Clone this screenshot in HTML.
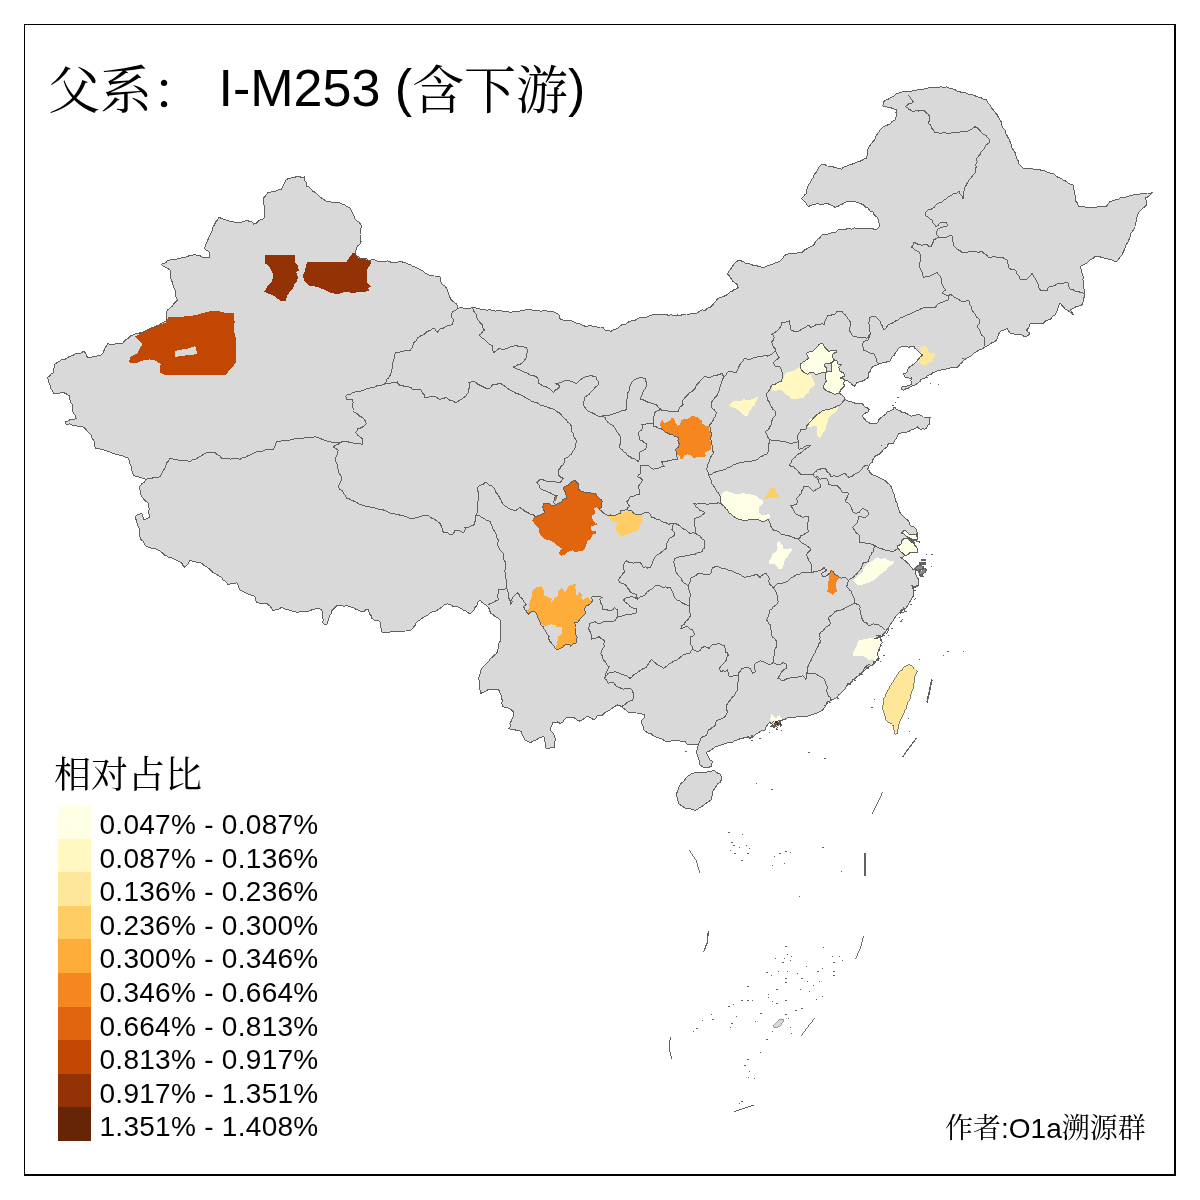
<!DOCTYPE html>
<html lang="zh"><head><meta charset="utf-8"><title>父系： I-M253 (含下游)</title>
<style>
html,body{margin:0;padding:0;background:#fff;}
body{width:1200px;height:1200px;position:relative;overflow:hidden;font-family:"Liberation Sans","Noto Serif CJK SC",serif;color:#000;}
.fr{position:absolute;background:#000;}
.title{position:absolute;left:48px;top:54px;font-size:52px;line-height:60px;white-space:pre;}
.cjk{font-family:"Noto Serif CJK SC","Liberation Serif",serif;font-weight:400;}
.title .cjk{position:relative;top:3px;}
.ltitle{position:absolute;left:54px;top:746.5px;font-size:37px;line-height:50px;white-space:pre;}
.sw{position:absolute;left:58px;width:33px;height:33.6px;}
.lab{position:absolute;left:99.5px;font-size:28px;letter-spacing:0.28px;line-height:33.6px;height:33.6px;white-space:pre;}
.author{position:absolute;left:945px;top:1107.5px;font-size:28px;line-height:36px;white-space:pre;}
</style></head><body>
<svg width="1200" height="1200" viewBox="0 0 1200 1200" style="position:absolute;left:0;top:0" shape-rendering="crispEdges">
<g fill="#D9D9D9" stroke="#606060" stroke-width="1" stroke-linejoin="round">
<path d="M96.2 448.8 L94.7 446.2 L94.7 443.1 L93.6 440.4 L91.9 437.9 L91.2 435.0 L89.4 433.1 L87.4 431.3 L85.8 429.2 L83.8 427.5 L81.0 426.3 L77.7 426.4 L75.0 425.0 L72.4 425.4 L70.1 423.9 L67.5 424.2 L65.0 423.8 L65.0 421.2 L67.9 421.0 L70.5 419.3 L73.4 419.3 L76.2 418.8 L75.3 415.7 L73.4 413.1 L72.5 410.0 L72.7 407.1 L72.1 404.4 L70.3 401.9 L69.8 399.1 L70.0 396.2 L67.5 394.9 L65.3 393.2 L62.5 392.5 L59.6 393.1 L56.7 393.8 L53.8 393.8 L52.4 390.9 L50.6 388.2 L50.0 385.0 L48.8 382.6 L48.2 380.0 L47.5 377.5 L49.6 375.8 L51.4 373.9 L53.8 372.5 L53.8 369.5 L54.2 366.6 L55.0 363.8 L57.5 362.4 L59.9 361.0 L62.2 359.4 L65.2 359.2 L67.5 357.6 L70.0 356.2 L72.8 355.5 L75.3 353.8 L78.5 353.9 L81.2 352.8 L83.8 351.2 L85.5 353.0 L86.5 355.3 L87.5 357.5 L90.3 357.3 L93.1 356.8 L95.9 356.6 L98.5 355.4 L101.2 355.0 L102.9 353.0 L104.0 350.6 L104.7 348.1 L106.4 346.1 L107.5 343.8 L110.5 344.3 L113.5 344.3 L116.5 343.8 L119.5 343.9 L122.5 343.8 L123.9 341.4 L126.0 339.7 L128.4 338.4 L130.0 336.2 L132.9 335.1 L135.7 333.7 L138.8 333.2 L141.8 332.4 L144.7 331.3 L147.5 330.0 L150.1 328.6 L152.8 327.4 L155.5 326.3 L158.4 325.4 L160.9 323.8 L163.5 322.4 L166.2 321.2 L166.5 318.4 L166.2 315.5 L166.5 312.7 L167.5 310.0 L169.7 308.2 L172.0 306.5 L173.6 304.1 L175.4 301.9 L177.5 300.0 L176.1 297.3 L175.7 294.3 L175.5 291.2 L174.3 288.5 L173.1 285.7 L172.7 282.7 L171.2 280.0 L170.5 277.5 L170.6 275.0 L171.0 272.4 L170.0 270.0 L167.9 268.5 L165.6 267.3 L163.3 266.2 L161.2 264.5 L163.5 263.4 L165.9 262.9 L167.5 260.5 L170.0 260.0 L173.2 259.7 L176.4 259.1 L179.5 258.5 L182.6 257.6 L185.7 257.0 L188.8 255.9 L191.9 255.3 L195.0 254.5 L197.5 255.4 L200.2 255.9 L202.5 257.5 L205.0 258.1 L207.5 257.6 L210.0 257.5 L209.5 255.0 L210.0 252.5 L208.2 251.2 L206.3 250.0 L204.5 248.8 L205.4 245.9 L206.4 243.0 L207.7 240.3 L208.8 237.5 L210.2 235.0 L211.4 232.4 L212.4 229.8 L213.1 226.9 L214.6 224.5 L215.8 221.9 L217.6 219.6 L218.8 217.0 L221.3 218.4 L224.0 219.3 L226.7 220.2 L229.4 221.1 L232.4 221.2 L235.0 222.5 L238.0 222.8 L241.0 222.3 L243.9 221.1 L246.9 220.8 L250.0 221.2 L252.3 222.2 L253.8 224.2 L256.2 223.2 L258.1 221.2 L260.2 219.7 L262.8 219.0 L265.0 217.5 L264.6 214.7 L264.0 211.8 L264.0 209.0 L264.3 206.1 L263.6 203.2 L263.6 200.4 L263.8 197.5 L265.9 195.5 L267.5 193.0 L270.2 192.3 L272.9 191.5 L275.7 191.2 L278.3 189.9 L281.2 190.0 L282.3 187.4 L283.6 184.9 L284.6 182.3 L286.2 180.0 L288.1 178.5 L290.7 178.5 L292.5 177.0 L295.5 177.0 L298.5 176.6 L301.5 177.2 L304.5 177.0 L304.6 180.1 L306.4 182.9 L306.2 186.0 L308.9 187.1 L311.1 189.0 L312.8 191.4 L315.6 192.4 L317.5 194.5 L319.5 196.4 L321.7 198.1 L324.0 199.6 L326.2 201.2 L329.4 201.1 L332.4 202.6 L335.6 202.6 L338.8 202.5 L341.6 203.9 L344.6 204.9 L347.1 206.8 L350.0 208.0 L351.4 210.6 L352.4 213.4 L354.0 215.9 L355.0 218.8 L356.6 220.8 L359.0 222.0 L360.5 224.2 L362.0 226.2 L360.6 229.0 L360.1 232.0 L360.0 235.0 L360.7 237.3 L360.3 239.8 L361.2 242.0 L359.8 244.4 L357.4 246.1 L356.2 248.8 L355.6 251.8 L355.8 255.0 L357.9 256.4 L360.0 258.0 L362.9 258.1 L365.8 258.3 L368.3 260.1 L371.2 260.0 L374.1 259.6 L376.7 261.0 L379.4 261.4 L382.2 261.1 L385.0 261.2 L387.9 260.9 L390.8 262.1 L393.7 262.3 L396.7 262.1 L399.6 261.9 L402.5 262.0 L405.1 262.8 L407.6 263.8 L410.2 264.6 L412.4 266.2 L415.0 267.0 L417.8 268.5 L420.7 269.8 L423.5 271.3 L425.9 273.6 L428.8 275.0 L431.6 275.2 L434.4 276.0 L437.2 276.2 L440.0 277.0 L440.1 279.9 L441.2 282.5 L442.7 284.8 L445.0 286.2 L446.9 288.8 L447.9 291.7 L449.0 294.6 L450.0 297.5 L451.3 300.0 L453.4 301.8 L455.8 303.3 L457.5 305.5 L458.0 308.2 L460.9 307.7 L463.8 308.2 L466.7 308.3 L469.6 308.3 L472.5 307.5 L475.4 307.7 L478.1 308.9 L481.0 309.1 L483.9 309.2 L486.7 310.4 L489.7 309.7 L492.5 310.5 L495.3 311.1 L498.3 310.3 L501.1 310.6 L503.9 312.0 L506.8 311.1 L509.6 312.2 L512.5 312.0 L515.4 311.7 L518.4 311.7 L521.2 310.6 L524.1 310.1 L527.0 309.6 L530.0 309.5 L532.8 310.3 L535.7 310.2 L538.5 310.9 L541.4 311.1 L544.3 310.2 L547.1 311.1 L550.0 311.2 L552.7 311.5 L555.2 312.3 L557.5 313.8 L559.3 315.3 L559.5 317.9 L561.2 319.5 L563.7 320.2 L566.2 320.5 L568.8 320.0 L571.2 320.5 L573.9 321.8 L576.6 323.2 L579.6 323.8 L582.2 325.2 L585.0 326.2 L588.1 326.0 L591.3 325.9 L594.4 326.3 L597.5 327.3 L600.6 327.0 L603.8 327.0 L603.8 328.7 L605.0 330.0 L608.1 330.6 L611.2 331.2 L613.3 329.7 L615.8 329.1 L618.1 327.9 L620.0 326.2 L622.6 324.3 L625.9 324.0 L628.5 321.9 L631.4 320.7 L634.8 320.5 L637.5 318.8 L640.0 317.5 L642.8 317.2 L645.7 317.6 L648.2 316.2 L650.8 315.2 L653.5 314.6 L656.2 314.5 L659.3 314.2 L662.3 315.0 L665.4 314.1 L668.4 315.4 L671.4 314.7 L674.4 315.6 L677.5 315.0 L680.5 315.4 L683.3 314.3 L686.2 314.0 L689.2 314.1 L692.0 313.4 L695.0 313.8 L697.6 312.9 L699.7 311.0 L702.2 309.9 L705.3 310.3 L707.4 308.3 L710.0 307.5 L712.1 305.6 L713.9 303.4 L715.8 301.3 L717.5 299.0 L720.0 297.5 L722.8 296.8 L725.3 295.6 L727.8 294.4 L729.7 292.0 L732.5 291.2 L734.1 289.6 L736.3 288.9 L738.0 287.5 L737.8 285.3 L736.2 283.8 L734.4 282.4 L732.5 281.2 L731.1 278.6 L729.4 276.1 L727.5 273.8 L728.9 271.0 L730.9 268.8 L732.5 266.2 L734.1 264.1 L735.9 262.2 L738.0 260.5 L741.1 260.8 L743.9 262.0 L746.5 263.9 L749.6 264.0 L752.5 265.0 L755.6 265.7 L758.7 266.2 L761.8 267.2 L765.0 267.0 L767.4 265.9 L769.9 264.9 L772.4 264.1 L774.9 263.1 L777.5 262.5 L780.0 260.9 L782.3 258.9 L783.9 256.3 L786.2 254.5 L788.9 253.8 L791.7 253.7 L794.4 253.4 L797.1 253.0 L799.7 252.0 L802.5 252.0 L804.4 250.0 L806.8 248.9 L808.9 247.3 L811.5 246.5 L813.8 245.0 L815.2 242.1 L817.2 239.6 L819.9 237.6 L821.7 235.0 L824.6 234.0 L827.8 234.1 L830.7 233.0 L833.8 232.9 L836.7 231.7 L838.0 230.1 L840.0 229.3 L842.9 229.1 L845.7 229.4 L848.5 228.1 L851.5 229.2 L854.3 227.9 L857.2 228.6 L860.0 228.0 L862.7 228.9 L865.5 228.9 L868.4 228.4 L871.2 228.3 L873.9 229.1 L876.7 229.3 L878.8 227.5 L880.0 225.0 L878.6 222.3 L878.3 219.2 L876.7 216.7 L874.2 215.0 L872.9 212.1 L869.9 210.9 L868.3 208.3 L865.7 207.1 L863.6 205.0 L861.0 203.7 L858.3 202.7 L855.5 201.8 L852.5 201.7 L849.6 201.6 L846.7 201.7 L844.2 202.6 L842.2 204.4 L839.7 205.2 L837.6 206.6 L835.0 207.3 L832.4 205.7 L829.6 204.4 L826.7 203.3 L823.7 204.0 L820.8 204.6 L817.6 203.6 L814.6 204.2 L811.7 205.0 L810.0 205.8 L808.3 206.7 L806.7 204.6 L805.4 202.2 L803.3 200.4 L801.7 198.3 L803.3 196.5 L804.9 194.8 L806.7 193.3 L806.9 190.5 L807.1 187.6 L808.3 185.0 L810.2 182.5 L811.5 179.7 L813.4 177.2 L814.4 174.1 L816.5 171.8 L817.9 169.0 L819.6 166.3 L821.7 164.0 L824.6 164.4 L827.3 166.0 L830.3 166.1 L833.2 166.9 L835.9 167.9 L838.9 168.2 L841.7 169.3 L842.9 167.4 L845.0 166.7 L847.7 165.7 L850.4 164.6 L853.2 163.8 L855.8 162.4 L858.7 161.7 L861.4 160.7 L863.8 159.0 L866.7 158.3 L867.1 155.8 L867.5 153.3 L867.5 150.7 L868.3 148.3 L869.9 145.6 L871.7 143.1 L873.8 140.8 L875.5 138.2 L876.4 135.0 L878.5 132.7 L880.0 130.0 L882.1 127.8 L884.6 126.1 L887.5 125.0 L890.3 123.8 L892.2 121.2 L895.0 120.0 L895.8 117.6 L896.4 115.1 L896.0 112.5 L896.7 110.0 L894.0 108.9 L891.2 107.9 L888.2 107.8 L885.6 106.5 L882.7 106.0 L883.4 103.9 L883.3 101.7 L886.1 100.1 L888.9 98.8 L891.7 97.2 L894.4 95.6 L896.7 93.3 L899.5 93.0 L902.2 92.0 L904.9 91.6 L907.7 91.1 L910.5 91.2 L913.3 90.7 L916.0 90.6 L918.5 89.1 L921.4 89.5 L924.1 89.1 L926.7 88.3 L929.5 87.8 L932.4 87.9 L935.2 87.1 L938.2 87.7 L940.9 86.5 L943.9 87.6 L946.7 86.7 L949.2 88.1 L952.0 88.9 L954.8 89.4 L957.1 91.3 L960.0 91.7 L962.5 93.0 L965.5 92.5 L967.9 94.1 L970.5 94.8 L973.3 95.0 L975.9 96.2 L978.6 97.3 L981.4 97.9 L983.8 99.6 L986.7 100.0 L987.8 102.9 L990.1 104.9 L991.3 107.8 L993.3 110.0 L995.1 112.4 L997.1 114.7 L998.5 117.4 L1000.0 120.0 L1001.6 122.3 L1001.7 125.3 L1002.7 127.8 L1005.0 129.8 L1005.4 132.6 L1006.7 135.0 L1007.9 137.4 L1009.4 139.8 L1010.3 142.4 L1011.4 144.8 L1011.9 147.7 L1013.3 150.0 L1015.0 152.4 L1015.7 155.2 L1016.4 157.9 L1018.0 160.4 L1018.3 163.3 L1019.8 165.1 L1021.5 166.7 L1023.3 168.3 L1025.9 169.0 L1028.7 168.3 L1031.4 168.6 L1034.0 169.2 L1036.7 169.3 L1039.5 169.6 L1042.2 170.8 L1045.1 170.9 L1047.7 172.2 L1050.4 173.1 L1053.3 173.3 L1055.5 175.4 L1057.9 177.2 L1060.8 178.4 L1063.3 180.0 L1065.8 181.2 L1068.1 183.0 L1070.6 184.1 L1073.3 185.0 L1073.5 187.7 L1074.2 190.3 L1074.6 192.9 L1075.2 195.6 L1075.0 198.3 L1075.7 201.0 L1077.7 203.2 L1078.3 206.0 L1081.2 206.7 L1084.1 206.7 L1087.0 207.7 L1090.0 207.3 L1092.8 207.5 L1095.6 207.6 L1098.3 206.1 L1101.1 206.4 L1103.9 206.3 L1106.7 206.0 L1108.1 203.7 L1110.0 201.7 L1112.8 200.9 L1115.5 199.8 L1118.4 199.2 L1120.9 197.6 L1123.9 197.5 L1126.7 196.7 L1129.7 195.9 L1132.6 195.1 L1135.7 194.5 L1138.8 194.4 L1141.7 193.3 L1144.5 193.4 L1147.2 193.0 L1150.0 193.1 L1152.7 192.7 L1150.2 194.7 L1147.8 196.8 L1145.0 198.3 L1146.3 200.4 L1146.5 202.7 L1146.7 205.0 L1144.5 207.0 L1142.1 208.7 L1140.1 210.9 L1138.3 213.3 L1137.6 216.0 L1136.3 218.5 L1136.4 221.4 L1135.2 223.9 L1135.0 226.7 L1133.9 229.3 L1132.2 231.5 L1130.6 233.9 L1130.0 236.7 L1129.1 239.3 L1128.2 241.9 L1126.5 244.1 L1125.5 246.7 L1124.6 249.3 L1123.3 251.7 L1122.3 254.6 L1120.1 256.8 L1118.4 259.3 L1116.7 261.7 L1113.7 261.0 L1111.0 259.5 L1108.0 259.0 L1105.0 258.3 L1102.6 257.6 L1100.1 256.9 L1097.6 256.7 L1095.0 256.7 L1092.9 258.4 L1090.6 259.7 L1088.6 261.5 L1086.7 263.3 L1084.4 264.2 L1082.1 265.4 L1080.0 266.7 L1081.0 269.2 L1081.5 271.8 L1082.3 274.3 L1083.3 276.7 L1082.9 279.8 L1083.4 282.8 L1083.6 285.9 L1084.0 288.9 L1084.2 292.0 L1085.0 295.0 L1084.0 297.5 L1083.6 300.1 L1082.9 302.6 L1081.7 305.0 L1078.7 306.0 L1075.6 307.0 L1072.9 308.7 L1070.0 310.0 L1072.1 312.2 L1073.3 315.0 L1071.6 313.0 L1069.3 311.7 L1067.3 310.1 L1064.9 308.9 L1063.3 306.7 L1061.7 305.0 L1060.0 303.3 L1058.4 306.1 L1057.6 309.2 L1056.4 312.2 L1055.0 315.0 L1052.5 316.5 L1050.7 318.9 L1048.0 320.0 L1045.3 321.1 L1043.3 323.3 L1040.6 323.2 L1038.0 323.7 L1035.3 323.4 L1032.7 323.7 L1030.0 324.0 L1029.3 326.2 L1028.2 328.2 L1026.7 330.0 L1027.9 332.1 L1030.0 333.3 L1028.6 334.9 L1026.7 336.0 L1023.8 336.2 L1021.2 334.6 L1018.4 334.6 L1015.5 334.4 L1012.8 333.7 L1010.0 333.3 L1008.6 330.6 L1006.7 328.3 L1004.7 329.9 L1002.1 330.4 L1000.0 331.7 L998.6 334.3 L997.4 337.1 L996.7 340.0 L994.4 341.8 L991.6 342.9 L989.4 344.8 L986.7 346.0 L984.2 347.3 L981.9 349.3 L979.0 349.9 L976.7 351.7 L973.9 352.9 L971.8 355.2 L969.4 357.0 L966.7 358.3 L964.1 359.9 L962.3 362.3 L960.0 364.2 L958.3 366.7 L955.6 367.8 L952.7 367.0 L950.0 368.0 L947.3 368.4 L944.7 369.4 L942.0 369.7 L939.7 370.6 L937.2 370.9 L935.0 372.1 L932.8 372.7 L931.3 374.5 L929.1 375.0 L927.1 376.0 L925.5 377.8 L923.3 378.5 L920.5 380.0 L918.6 382.6 L916.3 384.1 L914.0 385.5 L911.4 386.1 L909.3 387.8 L906.3 388.6 L903.5 390.1 L901.4 389.0 L902.3 386.6 L904.7 386.5 L907.0 386.1 L908.9 385.2 L911.0 384.9 L911.2 382.6 L910.9 380.2 L911.6 377.9 L909.4 378.2 L907.4 377.2 L905.2 377.3 L904.2 375.6 L903.5 373.8 L905.4 373.3 L907.0 372.1 L907.6 369.2 L909.3 367.2 L911.6 365.7 L913.6 364.4 L915.4 362.8 L916.9 361.0 L918.6 358.9 L920.3 356.7 L922.7 355.2 L920.7 353.5 L918.8 351.7 L916.9 349.9 L915.0 348.5 L914.0 346.4 L911.1 346.9 L908.1 347.1 L905.2 346.3 L902.3 346.4 L899.6 347.4 L897.6 349.3 L896.8 351.3 L895.3 352.8 L894.4 355.0 L892.4 356.3 L891.2 358.5 L890.6 361.0 L888.2 361.1 L886.0 362.2 L883.5 362.1 L881.3 363.2 L879.0 363.9 L876.4 365.3 L873.7 366.2 L871.9 367.6 L870.8 369.7 L870.1 371.5 L868.5 372.7 L868.5 374.5 L869.1 376.2 L867.4 378.4 L865.0 379.7 L863.3 380.7 L861.5 381.4 L859.2 382.0 L856.8 382.6 L855.8 384.5 L854.5 386.1 L852.4 385.0 L851.0 383.1 L849.0 382.0 L847.5 380.2 L844.6 380.8 L843.8 382.5 L843.6 384.5 L844.4 386.2 L842.5 388.2 L840.6 390.0 L839.9 391.5 L839.4 393.1 L841.7 394.8 L843.8 396.9 L845.2 399.5 L848.0 400.9 L851.0 401.8 L853.4 402.5 L855.7 403.6 L858.0 403.5 L860.4 403.8 L862.7 403.0 L863.2 405.4 L865.0 407.1 L867.4 407.7 L869.1 409.4 L867.9 412.3 L865.4 413.0 L863.2 414.6 L862.7 416.4 L863.2 418.1 L864.9 419.4 L866.2 421.0 L868.3 422.0 L870.2 423.4 L873.4 423.5 L876.6 423.4 L878.3 421.7 L879.0 419.3 L881.2 417.4 L883.6 415.8 L885.8 414.1 L887.1 411.7 L890.2 410.9 L893.0 409.4 L893.8 407.9 L895.3 407.1 L896.0 408.9 L897.6 410.0 L900.3 410.8 L902.3 412.9 L904.7 412.7 L907.0 413.5 L909.2 415.2 L911.6 416.4 L913.8 415.2 L916.2 415.0 L918.6 414.6 L921.2 415.3 L923.3 417.0 L925.6 417.1 L927.9 417.9 L930.3 417.6 L929.4 419.8 L929.7 422.2 L929.1 424.3 L927.4 425.7 L926.7 427.8 L925.0 429.2 L923.0 428.7 L921.0 429.2 L918.9 428.6 L917.5 426.9 L915.7 428.2 L913.8 429.3 L911.6 429.8 L909.5 431.1 L907.2 432.0 L904.6 432.1 L901.6 432.8 L898.8 433.9 L897.3 435.8 L896.5 438.0 L894.8 440.5 L893.6 443.2 L890.9 443.0 L888.3 443.8 L887.1 446.7 L884.6 448.6 L882.5 450.8 L880.9 452.7 L879.0 454.3 L876.9 455.3 L874.9 456.6 L873.1 459.0 L872.6 461.9 L870.7 463.5 L869.1 465.4 L868.6 467.6 L867.3 469.4 L869.3 470.7 L870.2 472.9 L872.0 474.6 L874.4 475.4 L876.6 476.4 L879.2 477.4 L881.6 478.9 L884.2 480.0 L886.1 481.7 L888.0 483.4 L890.0 485.0 L891.6 487.3 L892.2 489.9 L893.1 492.5 L894.4 494.8 L895.0 497.5 L895.5 500.7 L897.1 503.5 L897.8 506.6 L898.7 509.6 L900.0 512.5 L901.6 514.6 L903.5 516.5 L905.4 518.4 L907.5 520.0 L909.0 521.8 L909.2 524.4 L911.0 526.0 L914.0 527.0 L915.7 528.4 L916.5 530.5 L917.3 533.3 L916.8 536.3 L917.5 539.2 L914.9 539.0 L912.5 539.8 L911.0 538.3 L909.0 537.8 L907.0 538.0 L909.4 539.2 L911.0 541.5 L912.9 542.3 L914.0 544.0 L915.3 546.4 L917.2 548.2 L917.4 550.4 L917.5 552.5 L916.0 552.5 L913.5 552.7 L911.0 552.5 L908.6 553.1 L907.0 555.0 L905.0 555.5 L902.7 557.0 L900.0 557.2 L902.5 558.9 L905.0 560.5 L906.7 562.3 L908.7 563.8 L910.0 566.0 L911.6 567.6 L913.0 569.5 L915.0 570.0 L915.5 572.6 L916.1 575.2 L917.5 577.5 L918.6 579.9 L918.3 582.5 L918.8 585.0 L916.9 586.4 L914.4 586.2 L912.5 587.5 L913.7 589.8 L913.8 592.5 L913.6 595.2 L912.2 597.6 L911.2 600.0 L909.3 602.3 L908.1 605.2 L906.2 607.5 L904.5 609.6 L901.8 610.5 L900.0 612.5 L898.0 613.8 L896.3 615.5 L895.0 617.5 L893.6 620.2 L891.8 622.6 L890.0 625.0 L888.7 627.7 L886.6 630.0 L885.0 632.5 L883.5 634.3 L881.8 636.0 L880.0 637.5 L880.9 640.2 L882.5 642.5 L880.6 644.7 L879.9 647.4 L879.3 650.3 L877.5 652.5 L877.7 655.0 L878.4 657.5 L878.8 660.0 L876.2 661.1 L874.4 663.1 L872.5 665.0 L869.7 666.2 L867.3 668.1 L865.0 670.0 L863.3 671.6 L861.2 672.9 L860.0 675.0 L857.2 676.3 L855.2 678.6 L852.5 680.0 L851.2 682.0 L849.3 683.5 L847.5 685.0 L845.8 687.1 L844.6 689.5 L842.5 691.2 L840.8 693.3 L838.7 694.9 L837.4 697.4 L835.0 698.8 L832.3 699.6 L829.9 701.0 L827.5 702.5 L826.1 705.2 L824.4 707.7 L822.5 710.0 L820.1 711.4 L817.6 712.7 L815.0 713.8 L812.4 714.2 L810.0 715.4 L807.5 716.2 L805.0 716.2 L802.5 716.8 L800.0 716.2 L797.3 716.3 L795.0 717.5 L792.5 717.8 L790.0 717.8 L787.5 717.5 L785.3 719.3 L782.5 720.0 L780.0 722.1 L778.8 725.0 L776.3 726.3 L773.8 727.5 L772.4 724.6 L770.0 722.5 L768.3 723.3 L767.5 725.0 L765.6 727.2 L765.0 730.0 L762.7 730.4 L760.6 731.1 L758.8 732.5 L756.3 733.7 L754.3 735.5 L752.5 737.5 L749.4 738.0 L746.2 737.5 L743.1 738.1 L740.0 738.8 L737.4 739.9 L734.7 740.6 L732.5 742.5 L729.9 742.5 L727.4 743.0 L725.0 743.8 L722.4 744.2 L720.1 745.6 L717.5 746.2 L715.1 746.9 L713.2 748.6 L711.2 750.0 L708.8 751.4 L706.2 752.5 L707.5 755.0 L708.8 757.5 L710.1 759.9 L712.5 761.2 L711.8 763.7 L711.2 766.2 L708.9 767.3 L706.4 767.9 L703.8 768.0 L702.1 766.3 L700.0 765.0 L699.3 762.1 L698.9 759.0 L697.5 756.2 L696.9 753.4 L697.0 750.4 L697.0 747.5 L698.2 745.8 L698.8 743.8 L696.0 744.6 L693.2 744.7 L690.3 744.2 L687.5 744.5 L686.0 743.1 L685.0 741.2 L682.4 741.5 L680.0 741.0 L677.5 740.1 L675.0 740.0 L672.5 740.4 L670.1 741.5 L667.5 741.2 L664.8 741.0 L662.7 739.1 L660.0 738.8 L657.6 737.3 L654.8 736.7 L652.5 735.0 L650.6 733.3 L647.8 733.1 L645.8 731.4 L643.8 730.0 L643.4 727.3 L642.4 724.9 L641.2 722.5 L642.2 719.9 L644.3 717.8 L645.0 715.0 L642.1 714.2 L639.3 713.1 L636.2 713.0 L633.8 712.2 L631.2 712.8 L628.8 712.5 L626.8 710.6 L624.6 709.1 L622.5 707.5 L620.3 705.7 L617.5 705.0 L614.8 706.3 L612.3 708.1 L610.0 710.0 L607.2 711.3 L604.6 712.7 L602.5 715.0 L600.0 715.6 L597.5 715.5 L596.0 718.0 L593.8 720.0 L591.9 718.4 L589.8 717.2 L587.5 716.2 L585.0 717.9 L582.5 719.6 L580.0 721.2 L577.4 720.1 L575.3 718.2 L572.5 717.5 L569.4 717.1 L566.2 717.5 L564.3 719.9 L562.5 722.5 L560.0 723.2 L557.5 722.0 L555.0 722.6 L552.5 722.5 L552.1 724.8 L551.1 726.8 L550.0 728.8 L551.0 731.1 L553.1 732.8 L554.2 735.0 L555.0 737.5 L555.3 740.0 L554.4 742.5 L554.6 745.0 L555.0 747.5 L552.0 747.2 L549.2 748.3 L546.2 748.8 L545.7 745.6 L545.1 742.5 L544.4 739.4 L543.8 736.2 L541.2 737.4 L538.5 738.3 L536.2 740.0 L533.9 740.2 L532.1 741.8 L530.0 742.5 L527.6 741.1 L525.0 740.0 L523.5 737.2 L522.2 734.3 L521.2 731.2 L518.1 730.6 L515.0 729.9 L511.9 729.3 L508.8 728.8 L510.3 726.5 L509.9 723.6 L511.2 721.2 L512.3 718.4 L513.6 715.6 L513.8 712.5 L512.1 710.4 L510.0 708.8 L507.5 707.8 L504.9 707.3 L502.5 706.2 L501.9 703.4 L502.3 700.3 L501.2 697.5 L501.0 694.8 L499.8 692.4 L498.8 690.0 L495.9 689.4 L493.1 689.4 L490.3 689.5 L487.5 690.0 L485.1 691.4 L482.5 692.5 L480.0 693.8 L480.3 690.8 L479.5 687.9 L479.5 685.0 L479.6 682.5 L479.0 680.0 L478.8 677.5 L479.5 674.9 L480.6 672.5 L481.0 669.8 L482.5 667.5 L484.4 665.3 L486.6 663.2 L488.8 661.2 L490.1 658.9 L492.2 657.2 L494.1 655.4 L496.2 653.8 L497.6 651.4 L498.0 648.8 L498.8 646.2 L499.0 643.3 L500.6 640.6 L500.5 637.5 L500.1 634.6 L500.4 631.7 L500.6 628.7 L500.5 625.8 L500.0 622.9 L500.0 620.0 L498.1 618.1 L495.6 616.9 L493.6 615.0 L491.2 613.8 L490.0 611.6 L489.4 609.0 L487.8 607.0 L486.2 605.0 L483.8 603.8 L481.7 602.1 L480.0 600.0 L477.8 602.1 L477.0 605.2 L475.0 607.5 L473.9 610.0 L472.0 611.9 L470.0 613.8 L467.7 612.5 L465.8 610.7 L463.2 610.1 L461.2 608.5 L458.8 607.5 L456.1 606.1 L452.9 606.2 L450.4 604.5 L447.5 603.8 L444.6 604.7 L442.5 606.8 L440.0 608.4 L437.5 610.0 L435.1 611.5 L432.2 611.9 L429.7 613.1 L427.8 615.5 L425.0 616.2 L422.8 617.7 L420.7 619.5 L418.3 620.7 L416.2 622.5 L415.1 625.3 L413.2 627.7 L411.2 630.0 L408.5 630.8 L405.6 631.0 L402.7 631.1 L400.0 632.0 L396.9 631.5 L393.9 631.6 L390.9 631.7 L387.8 632.6 L384.8 632.2 L381.7 632.0 L381.5 629.4 L380.5 626.9 L380.4 624.3 L380.0 621.7 L377.5 620.0 L374.2 620.0 L371.7 618.3 L371.3 615.9 L369.4 614.0 L369.0 611.6 L368.3 609.3 L365.9 609.5 L364.1 611.3 L361.7 611.7 L358.8 610.4 L355.8 609.3 L353.2 607.4 L350.0 606.7 L347.2 605.5 L344.1 606.2 L341.2 605.4 L338.3 605.0 L335.7 606.5 L333.9 608.7 L331.7 610.7 L331.1 613.7 L329.3 616.3 L328.9 619.4 L327.7 622.1 L326.7 625.0 L324.3 624.5 L322.7 622.7 L323.2 619.5 L322.4 616.3 L322.6 613.1 L321.7 610.0 L319.4 608.5 L316.7 608.3 L314.3 609.5 L311.7 609.9 L309.2 610.9 L306.7 611.7 L304.0 611.3 L301.3 611.2 L298.7 612.1 L296.0 612.0 L293.3 611.7 L290.5 610.3 L287.5 609.6 L284.4 608.9 L281.7 607.3 L279.1 608.9 L276.1 609.5 L273.3 610.7 L271.8 608.8 L270.5 606.5 L268.4 605.1 L266.7 603.3 L264.2 603.0 L261.7 603.5 L259.2 603.0 L256.7 602.7 L255.5 599.8 L255.0 596.7 L252.6 595.3 L249.9 594.8 L247.3 593.7 L244.9 592.4 L242.5 591.2 L240.0 590.0 L238.7 587.7 L237.9 585.1 L236.7 582.7 L234.0 583.9 L230.9 583.7 L228.3 585.0 L226.9 582.9 L225.0 581.1 L222.8 579.7 L221.7 577.3 L218.8 576.0 L216.2 574.0 L213.3 572.7 L211.1 570.7 L209.0 568.6 L206.7 566.6 L203.8 565.4 L201.7 563.3 L198.8 562.5 L195.8 561.9 L192.8 561.4 L190.0 560.0 L188.8 562.7 L187.0 565.1 L185.0 567.3 L182.8 565.4 L181.7 562.7 L179.2 561.5 L176.8 560.2 L174.2 559.3 L171.8 558.0 L169.0 557.5 L166.7 556.0 L164.1 554.8 L162.1 552.8 L160.0 550.9 L157.3 549.9 L155.0 548.3 L151.8 548.3 L148.8 547.5 L146.0 546.0 L144.3 543.8 L143.1 541.3 L141.0 539.4 L140.0 536.7 L139.2 534.3 L139.4 531.7 L139.4 529.1 L138.3 526.7 L137.2 524.3 L136.8 521.7 L135.9 519.2 L135.0 516.7 L136.9 514.9 L139.4 514.2 L141.7 513.3 L142.8 515.4 L143.1 517.7 L143.3 520.0 L145.7 519.3 L147.9 518.0 L150.0 516.7 L149.0 514.1 L148.7 511.4 L149.3 508.6 L148.0 506.1 L148.3 503.3 L145.9 501.3 L143.7 499.1 L141.7 496.7 L140.6 494.1 L140.2 491.5 L139.9 488.8 L140.0 486.0 L141.9 483.7 L144.5 482.0 L146.0 479.3 L143.5 478.2 L140.8 477.9 L138.5 476.5 L135.7 476.2 L133.3 475.0 L132.5 472.2 L131.4 469.5 L131.4 466.5 L129.8 463.9 L129.6 461.0 L128.3 458.3 L125.7 457.2 L123.1 456.1 L120.4 455.6 L117.8 454.3 L115.0 454.0 L112.3 453.2 L109.8 451.9 L107.1 451.0 L104.4 450.2 L101.7 449.3 L99.0 448.9Z"/>
<path d="M713.8 770.0 L715.5 771.8 L717.6 773.1 L720.0 773.8 L721.3 776.7 L721.2 780.0 L720.1 782.5 L717.5 783.9 L716.2 786.2 L714.7 788.2 L713.5 790.3 L712.5 792.5 L712.4 795.0 L711.5 797.5 L711.2 800.0 L708.7 801.5 L706.2 803.2 L703.8 805.0 L701.8 806.8 L699.4 807.8 L697.3 809.3 L695.0 810.5 L692.6 809.6 L690.2 808.5 L687.7 808.0 L685.0 808.0 L683.0 806.5 L680.8 805.2 L678.8 803.8 L678.0 801.0 L677.2 798.2 L676.7 795.4 L677.0 792.5 L678.0 790.0 L678.7 787.4 L680.0 785.0 L681.7 782.7 L684.2 781.0 L685.7 778.5 L687.5 776.2 L689.6 775.2 L691.5 773.7 L693.8 773.0 L696.5 772.2 L699.4 772.5 L702.2 772.1 L705.0 772.5 L707.9 771.7 L711.0 771.6Z"/>
</g>
<defs><clipPath id="cn"><path d="M96.2 448.8 L94.7 446.2 L94.7 443.1 L93.6 440.4 L91.9 437.9 L91.2 435.0 L89.4 433.1 L87.4 431.3 L85.8 429.2 L83.8 427.5 L81.0 426.3 L77.7 426.4 L75.0 425.0 L72.4 425.4 L70.1 423.9 L67.5 424.2 L65.0 423.8 L65.0 421.2 L67.9 421.0 L70.5 419.3 L73.4 419.3 L76.2 418.8 L75.3 415.7 L73.4 413.1 L72.5 410.0 L72.7 407.1 L72.1 404.4 L70.3 401.9 L69.8 399.1 L70.0 396.2 L67.5 394.9 L65.3 393.2 L62.5 392.5 L59.6 393.1 L56.7 393.8 L53.8 393.8 L52.4 390.9 L50.6 388.2 L50.0 385.0 L48.8 382.6 L48.2 380.0 L47.5 377.5 L49.6 375.8 L51.4 373.9 L53.8 372.5 L53.8 369.5 L54.2 366.6 L55.0 363.8 L57.5 362.4 L59.9 361.0 L62.2 359.4 L65.2 359.2 L67.5 357.6 L70.0 356.2 L72.8 355.5 L75.3 353.8 L78.5 353.9 L81.2 352.8 L83.8 351.2 L85.5 353.0 L86.5 355.3 L87.5 357.5 L90.3 357.3 L93.1 356.8 L95.9 356.6 L98.5 355.4 L101.2 355.0 L102.9 353.0 L104.0 350.6 L104.7 348.1 L106.4 346.1 L107.5 343.8 L110.5 344.3 L113.5 344.3 L116.5 343.8 L119.5 343.9 L122.5 343.8 L123.9 341.4 L126.0 339.7 L128.4 338.4 L130.0 336.2 L132.9 335.1 L135.7 333.7 L138.8 333.2 L141.8 332.4 L144.7 331.3 L147.5 330.0 L150.1 328.6 L152.8 327.4 L155.5 326.3 L158.4 325.4 L160.9 323.8 L163.5 322.4 L166.2 321.2 L166.5 318.4 L166.2 315.5 L166.5 312.7 L167.5 310.0 L169.7 308.2 L172.0 306.5 L173.6 304.1 L175.4 301.9 L177.5 300.0 L176.1 297.3 L175.7 294.3 L175.5 291.2 L174.3 288.5 L173.1 285.7 L172.7 282.7 L171.2 280.0 L170.5 277.5 L170.6 275.0 L171.0 272.4 L170.0 270.0 L167.9 268.5 L165.6 267.3 L163.3 266.2 L161.2 264.5 L163.5 263.4 L165.9 262.9 L167.5 260.5 L170.0 260.0 L173.2 259.7 L176.4 259.1 L179.5 258.5 L182.6 257.6 L185.7 257.0 L188.8 255.9 L191.9 255.3 L195.0 254.5 L197.5 255.4 L200.2 255.9 L202.5 257.5 L205.0 258.1 L207.5 257.6 L210.0 257.5 L209.5 255.0 L210.0 252.5 L208.2 251.2 L206.3 250.0 L204.5 248.8 L205.4 245.9 L206.4 243.0 L207.7 240.3 L208.8 237.5 L210.2 235.0 L211.4 232.4 L212.4 229.8 L213.1 226.9 L214.6 224.5 L215.8 221.9 L217.6 219.6 L218.8 217.0 L221.3 218.4 L224.0 219.3 L226.7 220.2 L229.4 221.1 L232.4 221.2 L235.0 222.5 L238.0 222.8 L241.0 222.3 L243.9 221.1 L246.9 220.8 L250.0 221.2 L252.3 222.2 L253.8 224.2 L256.2 223.2 L258.1 221.2 L260.2 219.7 L262.8 219.0 L265.0 217.5 L264.6 214.7 L264.0 211.8 L264.0 209.0 L264.3 206.1 L263.6 203.2 L263.6 200.4 L263.8 197.5 L265.9 195.5 L267.5 193.0 L270.2 192.3 L272.9 191.5 L275.7 191.2 L278.3 189.9 L281.2 190.0 L282.3 187.4 L283.6 184.9 L284.6 182.3 L286.2 180.0 L288.1 178.5 L290.7 178.5 L292.5 177.0 L295.5 177.0 L298.5 176.6 L301.5 177.2 L304.5 177.0 L304.6 180.1 L306.4 182.9 L306.2 186.0 L308.9 187.1 L311.1 189.0 L312.8 191.4 L315.6 192.4 L317.5 194.5 L319.5 196.4 L321.7 198.1 L324.0 199.6 L326.2 201.2 L329.4 201.1 L332.4 202.6 L335.6 202.6 L338.8 202.5 L341.6 203.9 L344.6 204.9 L347.1 206.8 L350.0 208.0 L351.4 210.6 L352.4 213.4 L354.0 215.9 L355.0 218.8 L356.6 220.8 L359.0 222.0 L360.5 224.2 L362.0 226.2 L360.6 229.0 L360.1 232.0 L360.0 235.0 L360.7 237.3 L360.3 239.8 L361.2 242.0 L359.8 244.4 L357.4 246.1 L356.2 248.8 L355.6 251.8 L355.8 255.0 L357.9 256.4 L360.0 258.0 L362.9 258.1 L365.8 258.3 L368.3 260.1 L371.2 260.0 L374.1 259.6 L376.7 261.0 L379.4 261.4 L382.2 261.1 L385.0 261.2 L387.9 260.9 L390.8 262.1 L393.7 262.3 L396.7 262.1 L399.6 261.9 L402.5 262.0 L405.1 262.8 L407.6 263.8 L410.2 264.6 L412.4 266.2 L415.0 267.0 L417.8 268.5 L420.7 269.8 L423.5 271.3 L425.9 273.6 L428.8 275.0 L431.6 275.2 L434.4 276.0 L437.2 276.2 L440.0 277.0 L440.1 279.9 L441.2 282.5 L442.7 284.8 L445.0 286.2 L446.9 288.8 L447.9 291.7 L449.0 294.6 L450.0 297.5 L451.3 300.0 L453.4 301.8 L455.8 303.3 L457.5 305.5 L458.0 308.2 L460.9 307.7 L463.8 308.2 L466.7 308.3 L469.6 308.3 L472.5 307.5 L475.4 307.7 L478.1 308.9 L481.0 309.1 L483.9 309.2 L486.7 310.4 L489.7 309.7 L492.5 310.5 L495.3 311.1 L498.3 310.3 L501.1 310.6 L503.9 312.0 L506.8 311.1 L509.6 312.2 L512.5 312.0 L515.4 311.7 L518.4 311.7 L521.2 310.6 L524.1 310.1 L527.0 309.6 L530.0 309.5 L532.8 310.3 L535.7 310.2 L538.5 310.9 L541.4 311.1 L544.3 310.2 L547.1 311.1 L550.0 311.2 L552.7 311.5 L555.2 312.3 L557.5 313.8 L559.3 315.3 L559.5 317.9 L561.2 319.5 L563.7 320.2 L566.2 320.5 L568.8 320.0 L571.2 320.5 L573.9 321.8 L576.6 323.2 L579.6 323.8 L582.2 325.2 L585.0 326.2 L588.1 326.0 L591.3 325.9 L594.4 326.3 L597.5 327.3 L600.6 327.0 L603.8 327.0 L603.8 328.7 L605.0 330.0 L608.1 330.6 L611.2 331.2 L613.3 329.7 L615.8 329.1 L618.1 327.9 L620.0 326.2 L622.6 324.3 L625.9 324.0 L628.5 321.9 L631.4 320.7 L634.8 320.5 L637.5 318.8 L640.0 317.5 L642.8 317.2 L645.7 317.6 L648.2 316.2 L650.8 315.2 L653.5 314.6 L656.2 314.5 L659.3 314.2 L662.3 315.0 L665.4 314.1 L668.4 315.4 L671.4 314.7 L674.4 315.6 L677.5 315.0 L680.5 315.4 L683.3 314.3 L686.2 314.0 L689.2 314.1 L692.0 313.4 L695.0 313.8 L697.6 312.9 L699.7 311.0 L702.2 309.9 L705.3 310.3 L707.4 308.3 L710.0 307.5 L712.1 305.6 L713.9 303.4 L715.8 301.3 L717.5 299.0 L720.0 297.5 L722.8 296.8 L725.3 295.6 L727.8 294.4 L729.7 292.0 L732.5 291.2 L734.1 289.6 L736.3 288.9 L738.0 287.5 L737.8 285.3 L736.2 283.8 L734.4 282.4 L732.5 281.2 L731.1 278.6 L729.4 276.1 L727.5 273.8 L728.9 271.0 L730.9 268.8 L732.5 266.2 L734.1 264.1 L735.9 262.2 L738.0 260.5 L741.1 260.8 L743.9 262.0 L746.5 263.9 L749.6 264.0 L752.5 265.0 L755.6 265.7 L758.7 266.2 L761.8 267.2 L765.0 267.0 L767.4 265.9 L769.9 264.9 L772.4 264.1 L774.9 263.1 L777.5 262.5 L780.0 260.9 L782.3 258.9 L783.9 256.3 L786.2 254.5 L788.9 253.8 L791.7 253.7 L794.4 253.4 L797.1 253.0 L799.7 252.0 L802.5 252.0 L804.4 250.0 L806.8 248.9 L808.9 247.3 L811.5 246.5 L813.8 245.0 L815.2 242.1 L817.2 239.6 L819.9 237.6 L821.7 235.0 L824.6 234.0 L827.8 234.1 L830.7 233.0 L833.8 232.9 L836.7 231.7 L838.0 230.1 L840.0 229.3 L842.9 229.1 L845.7 229.4 L848.5 228.1 L851.5 229.2 L854.3 227.9 L857.2 228.6 L860.0 228.0 L862.7 228.9 L865.5 228.9 L868.4 228.4 L871.2 228.3 L873.9 229.1 L876.7 229.3 L878.8 227.5 L880.0 225.0 L878.6 222.3 L878.3 219.2 L876.7 216.7 L874.2 215.0 L872.9 212.1 L869.9 210.9 L868.3 208.3 L865.7 207.1 L863.6 205.0 L861.0 203.7 L858.3 202.7 L855.5 201.8 L852.5 201.7 L849.6 201.6 L846.7 201.7 L844.2 202.6 L842.2 204.4 L839.7 205.2 L837.6 206.6 L835.0 207.3 L832.4 205.7 L829.6 204.4 L826.7 203.3 L823.7 204.0 L820.8 204.6 L817.6 203.6 L814.6 204.2 L811.7 205.0 L810.0 205.8 L808.3 206.7 L806.7 204.6 L805.4 202.2 L803.3 200.4 L801.7 198.3 L803.3 196.5 L804.9 194.8 L806.7 193.3 L806.9 190.5 L807.1 187.6 L808.3 185.0 L810.2 182.5 L811.5 179.7 L813.4 177.2 L814.4 174.1 L816.5 171.8 L817.9 169.0 L819.6 166.3 L821.7 164.0 L824.6 164.4 L827.3 166.0 L830.3 166.1 L833.2 166.9 L835.9 167.9 L838.9 168.2 L841.7 169.3 L842.9 167.4 L845.0 166.7 L847.7 165.7 L850.4 164.6 L853.2 163.8 L855.8 162.4 L858.7 161.7 L861.4 160.7 L863.8 159.0 L866.7 158.3 L867.1 155.8 L867.5 153.3 L867.5 150.7 L868.3 148.3 L869.9 145.6 L871.7 143.1 L873.8 140.8 L875.5 138.2 L876.4 135.0 L878.5 132.7 L880.0 130.0 L882.1 127.8 L884.6 126.1 L887.5 125.0 L890.3 123.8 L892.2 121.2 L895.0 120.0 L895.8 117.6 L896.4 115.1 L896.0 112.5 L896.7 110.0 L894.0 108.9 L891.2 107.9 L888.2 107.8 L885.6 106.5 L882.7 106.0 L883.4 103.9 L883.3 101.7 L886.1 100.1 L888.9 98.8 L891.7 97.2 L894.4 95.6 L896.7 93.3 L899.5 93.0 L902.2 92.0 L904.9 91.6 L907.7 91.1 L910.5 91.2 L913.3 90.7 L916.0 90.6 L918.5 89.1 L921.4 89.5 L924.1 89.1 L926.7 88.3 L929.5 87.8 L932.4 87.9 L935.2 87.1 L938.2 87.7 L940.9 86.5 L943.9 87.6 L946.7 86.7 L949.2 88.1 L952.0 88.9 L954.8 89.4 L957.1 91.3 L960.0 91.7 L962.5 93.0 L965.5 92.5 L967.9 94.1 L970.5 94.8 L973.3 95.0 L975.9 96.2 L978.6 97.3 L981.4 97.9 L983.8 99.6 L986.7 100.0 L987.8 102.9 L990.1 104.9 L991.3 107.8 L993.3 110.0 L995.1 112.4 L997.1 114.7 L998.5 117.4 L1000.0 120.0 L1001.6 122.3 L1001.7 125.3 L1002.7 127.8 L1005.0 129.8 L1005.4 132.6 L1006.7 135.0 L1007.9 137.4 L1009.4 139.8 L1010.3 142.4 L1011.4 144.8 L1011.9 147.7 L1013.3 150.0 L1015.0 152.4 L1015.7 155.2 L1016.4 157.9 L1018.0 160.4 L1018.3 163.3 L1019.8 165.1 L1021.5 166.7 L1023.3 168.3 L1025.9 169.0 L1028.7 168.3 L1031.4 168.6 L1034.0 169.2 L1036.7 169.3 L1039.5 169.6 L1042.2 170.8 L1045.1 170.9 L1047.7 172.2 L1050.4 173.1 L1053.3 173.3 L1055.5 175.4 L1057.9 177.2 L1060.8 178.4 L1063.3 180.0 L1065.8 181.2 L1068.1 183.0 L1070.6 184.1 L1073.3 185.0 L1073.5 187.7 L1074.2 190.3 L1074.6 192.9 L1075.2 195.6 L1075.0 198.3 L1075.7 201.0 L1077.7 203.2 L1078.3 206.0 L1081.2 206.7 L1084.1 206.7 L1087.0 207.7 L1090.0 207.3 L1092.8 207.5 L1095.6 207.6 L1098.3 206.1 L1101.1 206.4 L1103.9 206.3 L1106.7 206.0 L1108.1 203.7 L1110.0 201.7 L1112.8 200.9 L1115.5 199.8 L1118.4 199.2 L1120.9 197.6 L1123.9 197.5 L1126.7 196.7 L1129.7 195.9 L1132.6 195.1 L1135.7 194.5 L1138.8 194.4 L1141.7 193.3 L1144.5 193.4 L1147.2 193.0 L1150.0 193.1 L1152.7 192.7 L1150.2 194.7 L1147.8 196.8 L1145.0 198.3 L1146.3 200.4 L1146.5 202.7 L1146.7 205.0 L1144.5 207.0 L1142.1 208.7 L1140.1 210.9 L1138.3 213.3 L1137.6 216.0 L1136.3 218.5 L1136.4 221.4 L1135.2 223.9 L1135.0 226.7 L1133.9 229.3 L1132.2 231.5 L1130.6 233.9 L1130.0 236.7 L1129.1 239.3 L1128.2 241.9 L1126.5 244.1 L1125.5 246.7 L1124.6 249.3 L1123.3 251.7 L1122.3 254.6 L1120.1 256.8 L1118.4 259.3 L1116.7 261.7 L1113.7 261.0 L1111.0 259.5 L1108.0 259.0 L1105.0 258.3 L1102.6 257.6 L1100.1 256.9 L1097.6 256.7 L1095.0 256.7 L1092.9 258.4 L1090.6 259.7 L1088.6 261.5 L1086.7 263.3 L1084.4 264.2 L1082.1 265.4 L1080.0 266.7 L1081.0 269.2 L1081.5 271.8 L1082.3 274.3 L1083.3 276.7 L1082.9 279.8 L1083.4 282.8 L1083.6 285.9 L1084.0 288.9 L1084.2 292.0 L1085.0 295.0 L1084.0 297.5 L1083.6 300.1 L1082.9 302.6 L1081.7 305.0 L1078.7 306.0 L1075.6 307.0 L1072.9 308.7 L1070.0 310.0 L1072.1 312.2 L1073.3 315.0 L1071.6 313.0 L1069.3 311.7 L1067.3 310.1 L1064.9 308.9 L1063.3 306.7 L1061.7 305.0 L1060.0 303.3 L1058.4 306.1 L1057.6 309.2 L1056.4 312.2 L1055.0 315.0 L1052.5 316.5 L1050.7 318.9 L1048.0 320.0 L1045.3 321.1 L1043.3 323.3 L1040.6 323.2 L1038.0 323.7 L1035.3 323.4 L1032.7 323.7 L1030.0 324.0 L1029.3 326.2 L1028.2 328.2 L1026.7 330.0 L1027.9 332.1 L1030.0 333.3 L1028.6 334.9 L1026.7 336.0 L1023.8 336.2 L1021.2 334.6 L1018.4 334.6 L1015.5 334.4 L1012.8 333.7 L1010.0 333.3 L1008.6 330.6 L1006.7 328.3 L1004.7 329.9 L1002.1 330.4 L1000.0 331.7 L998.6 334.3 L997.4 337.1 L996.7 340.0 L994.4 341.8 L991.6 342.9 L989.4 344.8 L986.7 346.0 L984.2 347.3 L981.9 349.3 L979.0 349.9 L976.7 351.7 L973.9 352.9 L971.8 355.2 L969.4 357.0 L966.7 358.3 L964.1 359.9 L962.3 362.3 L960.0 364.2 L958.3 366.7 L955.6 367.8 L952.7 367.0 L950.0 368.0 L947.3 368.4 L944.7 369.4 L942.0 369.7 L939.7 370.6 L937.2 370.9 L935.0 372.1 L932.8 372.7 L931.3 374.5 L929.1 375.0 L927.1 376.0 L925.5 377.8 L923.3 378.5 L920.5 380.0 L918.6 382.6 L916.3 384.1 L914.0 385.5 L911.4 386.1 L909.3 387.8 L906.3 388.6 L903.5 390.1 L901.4 389.0 L902.3 386.6 L904.7 386.5 L907.0 386.1 L908.9 385.2 L911.0 384.9 L911.2 382.6 L910.9 380.2 L911.6 377.9 L909.4 378.2 L907.4 377.2 L905.2 377.3 L904.2 375.6 L903.5 373.8 L905.4 373.3 L907.0 372.1 L907.6 369.2 L909.3 367.2 L911.6 365.7 L913.6 364.4 L915.4 362.8 L916.9 361.0 L918.6 358.9 L920.3 356.7 L922.7 355.2 L920.7 353.5 L918.8 351.7 L916.9 349.9 L915.0 348.5 L914.0 346.4 L911.1 346.9 L908.1 347.1 L905.2 346.3 L902.3 346.4 L899.6 347.4 L897.6 349.3 L896.8 351.3 L895.3 352.8 L894.4 355.0 L892.4 356.3 L891.2 358.5 L890.6 361.0 L888.2 361.1 L886.0 362.2 L883.5 362.1 L881.3 363.2 L879.0 363.9 L876.4 365.3 L873.7 366.2 L871.9 367.6 L870.8 369.7 L870.1 371.5 L868.5 372.7 L868.5 374.5 L869.1 376.2 L867.4 378.4 L865.0 379.7 L863.3 380.7 L861.5 381.4 L859.2 382.0 L856.8 382.6 L855.8 384.5 L854.5 386.1 L852.4 385.0 L851.0 383.1 L849.0 382.0 L847.5 380.2 L844.6 380.8 L843.8 382.5 L843.6 384.5 L844.4 386.2 L842.5 388.2 L840.6 390.0 L839.9 391.5 L839.4 393.1 L841.7 394.8 L843.8 396.9 L845.2 399.5 L848.0 400.9 L851.0 401.8 L853.4 402.5 L855.7 403.6 L858.0 403.5 L860.4 403.8 L862.7 403.0 L863.2 405.4 L865.0 407.1 L867.4 407.7 L869.1 409.4 L867.9 412.3 L865.4 413.0 L863.2 414.6 L862.7 416.4 L863.2 418.1 L864.9 419.4 L866.2 421.0 L868.3 422.0 L870.2 423.4 L873.4 423.5 L876.6 423.4 L878.3 421.7 L879.0 419.3 L881.2 417.4 L883.6 415.8 L885.8 414.1 L887.1 411.7 L890.2 410.9 L893.0 409.4 L893.8 407.9 L895.3 407.1 L896.0 408.9 L897.6 410.0 L900.3 410.8 L902.3 412.9 L904.7 412.7 L907.0 413.5 L909.2 415.2 L911.6 416.4 L913.8 415.2 L916.2 415.0 L918.6 414.6 L921.2 415.3 L923.3 417.0 L925.6 417.1 L927.9 417.9 L930.3 417.6 L929.4 419.8 L929.7 422.2 L929.1 424.3 L927.4 425.7 L926.7 427.8 L925.0 429.2 L923.0 428.7 L921.0 429.2 L918.9 428.6 L917.5 426.9 L915.7 428.2 L913.8 429.3 L911.6 429.8 L909.5 431.1 L907.2 432.0 L904.6 432.1 L901.6 432.8 L898.8 433.9 L897.3 435.8 L896.5 438.0 L894.8 440.5 L893.6 443.2 L890.9 443.0 L888.3 443.8 L887.1 446.7 L884.6 448.6 L882.5 450.8 L880.9 452.7 L879.0 454.3 L876.9 455.3 L874.9 456.6 L873.1 459.0 L872.6 461.9 L870.7 463.5 L869.1 465.4 L868.6 467.6 L867.3 469.4 L869.3 470.7 L870.2 472.9 L872.0 474.6 L874.4 475.4 L876.6 476.4 L879.2 477.4 L881.6 478.9 L884.2 480.0 L886.1 481.7 L888.0 483.4 L890.0 485.0 L891.6 487.3 L892.2 489.9 L893.1 492.5 L894.4 494.8 L895.0 497.5 L895.5 500.7 L897.1 503.5 L897.8 506.6 L898.7 509.6 L900.0 512.5 L901.6 514.6 L903.5 516.5 L905.4 518.4 L907.5 520.0 L909.0 521.8 L909.2 524.4 L911.0 526.0 L914.0 527.0 L915.7 528.4 L916.5 530.5 L917.3 533.3 L916.8 536.3 L917.5 539.2 L914.9 539.0 L912.5 539.8 L911.0 538.3 L909.0 537.8 L907.0 538.0 L909.4 539.2 L911.0 541.5 L912.9 542.3 L914.0 544.0 L915.3 546.4 L917.2 548.2 L917.4 550.4 L917.5 552.5 L916.0 552.5 L913.5 552.7 L911.0 552.5 L908.6 553.1 L907.0 555.0 L905.0 555.5 L902.7 557.0 L900.0 557.2 L902.5 558.9 L905.0 560.5 L906.7 562.3 L908.7 563.8 L910.0 566.0 L911.6 567.6 L913.0 569.5 L915.0 570.0 L915.5 572.6 L916.1 575.2 L917.5 577.5 L918.6 579.9 L918.3 582.5 L918.8 585.0 L916.9 586.4 L914.4 586.2 L912.5 587.5 L913.7 589.8 L913.8 592.5 L913.6 595.2 L912.2 597.6 L911.2 600.0 L909.3 602.3 L908.1 605.2 L906.2 607.5 L904.5 609.6 L901.8 610.5 L900.0 612.5 L898.0 613.8 L896.3 615.5 L895.0 617.5 L893.6 620.2 L891.8 622.6 L890.0 625.0 L888.7 627.7 L886.6 630.0 L885.0 632.5 L883.5 634.3 L881.8 636.0 L880.0 637.5 L880.9 640.2 L882.5 642.5 L880.6 644.7 L879.9 647.4 L879.3 650.3 L877.5 652.5 L877.7 655.0 L878.4 657.5 L878.8 660.0 L876.2 661.1 L874.4 663.1 L872.5 665.0 L869.7 666.2 L867.3 668.1 L865.0 670.0 L863.3 671.6 L861.2 672.9 L860.0 675.0 L857.2 676.3 L855.2 678.6 L852.5 680.0 L851.2 682.0 L849.3 683.5 L847.5 685.0 L845.8 687.1 L844.6 689.5 L842.5 691.2 L840.8 693.3 L838.7 694.9 L837.4 697.4 L835.0 698.8 L832.3 699.6 L829.9 701.0 L827.5 702.5 L826.1 705.2 L824.4 707.7 L822.5 710.0 L820.1 711.4 L817.6 712.7 L815.0 713.8 L812.4 714.2 L810.0 715.4 L807.5 716.2 L805.0 716.2 L802.5 716.8 L800.0 716.2 L797.3 716.3 L795.0 717.5 L792.5 717.8 L790.0 717.8 L787.5 717.5 L785.3 719.3 L782.5 720.0 L780.0 722.1 L778.8 725.0 L776.3 726.3 L773.8 727.5 L772.4 724.6 L770.0 722.5 L768.3 723.3 L767.5 725.0 L765.6 727.2 L765.0 730.0 L762.7 730.4 L760.6 731.1 L758.8 732.5 L756.3 733.7 L754.3 735.5 L752.5 737.5 L749.4 738.0 L746.2 737.5 L743.1 738.1 L740.0 738.8 L737.4 739.9 L734.7 740.6 L732.5 742.5 L729.9 742.5 L727.4 743.0 L725.0 743.8 L722.4 744.2 L720.1 745.6 L717.5 746.2 L715.1 746.9 L713.2 748.6 L711.2 750.0 L708.8 751.4 L706.2 752.5 L707.5 755.0 L708.8 757.5 L710.1 759.9 L712.5 761.2 L711.8 763.7 L711.2 766.2 L708.9 767.3 L706.4 767.9 L703.8 768.0 L702.1 766.3 L700.0 765.0 L699.3 762.1 L698.9 759.0 L697.5 756.2 L696.9 753.4 L697.0 750.4 L697.0 747.5 L698.2 745.8 L698.8 743.8 L696.0 744.6 L693.2 744.7 L690.3 744.2 L687.5 744.5 L686.0 743.1 L685.0 741.2 L682.4 741.5 L680.0 741.0 L677.5 740.1 L675.0 740.0 L672.5 740.4 L670.1 741.5 L667.5 741.2 L664.8 741.0 L662.7 739.1 L660.0 738.8 L657.6 737.3 L654.8 736.7 L652.5 735.0 L650.6 733.3 L647.8 733.1 L645.8 731.4 L643.8 730.0 L643.4 727.3 L642.4 724.9 L641.2 722.5 L642.2 719.9 L644.3 717.8 L645.0 715.0 L642.1 714.2 L639.3 713.1 L636.2 713.0 L633.8 712.2 L631.2 712.8 L628.8 712.5 L626.8 710.6 L624.6 709.1 L622.5 707.5 L620.3 705.7 L617.5 705.0 L614.8 706.3 L612.3 708.1 L610.0 710.0 L607.2 711.3 L604.6 712.7 L602.5 715.0 L600.0 715.6 L597.5 715.5 L596.0 718.0 L593.8 720.0 L591.9 718.4 L589.8 717.2 L587.5 716.2 L585.0 717.9 L582.5 719.6 L580.0 721.2 L577.4 720.1 L575.3 718.2 L572.5 717.5 L569.4 717.1 L566.2 717.5 L564.3 719.9 L562.5 722.5 L560.0 723.2 L557.5 722.0 L555.0 722.6 L552.5 722.5 L552.1 724.8 L551.1 726.8 L550.0 728.8 L551.0 731.1 L553.1 732.8 L554.2 735.0 L555.0 737.5 L555.3 740.0 L554.4 742.5 L554.6 745.0 L555.0 747.5 L552.0 747.2 L549.2 748.3 L546.2 748.8 L545.7 745.6 L545.1 742.5 L544.4 739.4 L543.8 736.2 L541.2 737.4 L538.5 738.3 L536.2 740.0 L533.9 740.2 L532.1 741.8 L530.0 742.5 L527.6 741.1 L525.0 740.0 L523.5 737.2 L522.2 734.3 L521.2 731.2 L518.1 730.6 L515.0 729.9 L511.9 729.3 L508.8 728.8 L510.3 726.5 L509.9 723.6 L511.2 721.2 L512.3 718.4 L513.6 715.6 L513.8 712.5 L512.1 710.4 L510.0 708.8 L507.5 707.8 L504.9 707.3 L502.5 706.2 L501.9 703.4 L502.3 700.3 L501.2 697.5 L501.0 694.8 L499.8 692.4 L498.8 690.0 L495.9 689.4 L493.1 689.4 L490.3 689.5 L487.5 690.0 L485.1 691.4 L482.5 692.5 L480.0 693.8 L480.3 690.8 L479.5 687.9 L479.5 685.0 L479.6 682.5 L479.0 680.0 L478.8 677.5 L479.5 674.9 L480.6 672.5 L481.0 669.8 L482.5 667.5 L484.4 665.3 L486.6 663.2 L488.8 661.2 L490.1 658.9 L492.2 657.2 L494.1 655.4 L496.2 653.8 L497.6 651.4 L498.0 648.8 L498.8 646.2 L499.0 643.3 L500.6 640.6 L500.5 637.5 L500.1 634.6 L500.4 631.7 L500.6 628.7 L500.5 625.8 L500.0 622.9 L500.0 620.0 L498.1 618.1 L495.6 616.9 L493.6 615.0 L491.2 613.8 L490.0 611.6 L489.4 609.0 L487.8 607.0 L486.2 605.0 L483.8 603.8 L481.7 602.1 L480.0 600.0 L477.8 602.1 L477.0 605.2 L475.0 607.5 L473.9 610.0 L472.0 611.9 L470.0 613.8 L467.7 612.5 L465.8 610.7 L463.2 610.1 L461.2 608.5 L458.8 607.5 L456.1 606.1 L452.9 606.2 L450.4 604.5 L447.5 603.8 L444.6 604.7 L442.5 606.8 L440.0 608.4 L437.5 610.0 L435.1 611.5 L432.2 611.9 L429.7 613.1 L427.8 615.5 L425.0 616.2 L422.8 617.7 L420.7 619.5 L418.3 620.7 L416.2 622.5 L415.1 625.3 L413.2 627.7 L411.2 630.0 L408.5 630.8 L405.6 631.0 L402.7 631.1 L400.0 632.0 L396.9 631.5 L393.9 631.6 L390.9 631.7 L387.8 632.6 L384.8 632.2 L381.7 632.0 L381.5 629.4 L380.5 626.9 L380.4 624.3 L380.0 621.7 L377.5 620.0 L374.2 620.0 L371.7 618.3 L371.3 615.9 L369.4 614.0 L369.0 611.6 L368.3 609.3 L365.9 609.5 L364.1 611.3 L361.7 611.7 L358.8 610.4 L355.8 609.3 L353.2 607.4 L350.0 606.7 L347.2 605.5 L344.1 606.2 L341.2 605.4 L338.3 605.0 L335.7 606.5 L333.9 608.7 L331.7 610.7 L331.1 613.7 L329.3 616.3 L328.9 619.4 L327.7 622.1 L326.7 625.0 L324.3 624.5 L322.7 622.7 L323.2 619.5 L322.4 616.3 L322.6 613.1 L321.7 610.0 L319.4 608.5 L316.7 608.3 L314.3 609.5 L311.7 609.9 L309.2 610.9 L306.7 611.7 L304.0 611.3 L301.3 611.2 L298.7 612.1 L296.0 612.0 L293.3 611.7 L290.5 610.3 L287.5 609.6 L284.4 608.9 L281.7 607.3 L279.1 608.9 L276.1 609.5 L273.3 610.7 L271.8 608.8 L270.5 606.5 L268.4 605.1 L266.7 603.3 L264.2 603.0 L261.7 603.5 L259.2 603.0 L256.7 602.7 L255.5 599.8 L255.0 596.7 L252.6 595.3 L249.9 594.8 L247.3 593.7 L244.9 592.4 L242.5 591.2 L240.0 590.0 L238.7 587.7 L237.9 585.1 L236.7 582.7 L234.0 583.9 L230.9 583.7 L228.3 585.0 L226.9 582.9 L225.0 581.1 L222.8 579.7 L221.7 577.3 L218.8 576.0 L216.2 574.0 L213.3 572.7 L211.1 570.7 L209.0 568.6 L206.7 566.6 L203.8 565.4 L201.7 563.3 L198.8 562.5 L195.8 561.9 L192.8 561.4 L190.0 560.0 L188.8 562.7 L187.0 565.1 L185.0 567.3 L182.8 565.4 L181.7 562.7 L179.2 561.5 L176.8 560.2 L174.2 559.3 L171.8 558.0 L169.0 557.5 L166.7 556.0 L164.1 554.8 L162.1 552.8 L160.0 550.9 L157.3 549.9 L155.0 548.3 L151.8 548.3 L148.8 547.5 L146.0 546.0 L144.3 543.8 L143.1 541.3 L141.0 539.4 L140.0 536.7 L139.2 534.3 L139.4 531.7 L139.4 529.1 L138.3 526.7 L137.2 524.3 L136.8 521.7 L135.9 519.2 L135.0 516.7 L136.9 514.9 L139.4 514.2 L141.7 513.3 L142.8 515.4 L143.1 517.7 L143.3 520.0 L145.7 519.3 L147.9 518.0 L150.0 516.7 L149.0 514.1 L148.7 511.4 L149.3 508.6 L148.0 506.1 L148.3 503.3 L145.9 501.3 L143.7 499.1 L141.7 496.7 L140.6 494.1 L140.2 491.5 L139.9 488.8 L140.0 486.0 L141.9 483.7 L144.5 482.0 L146.0 479.3 L143.5 478.2 L140.8 477.9 L138.5 476.5 L135.7 476.2 L133.3 475.0 L132.5 472.2 L131.4 469.5 L131.4 466.5 L129.8 463.9 L129.6 461.0 L128.3 458.3 L125.7 457.2 L123.1 456.1 L120.4 455.6 L117.8 454.3 L115.0 454.0 L112.3 453.2 L109.8 451.9 L107.1 451.0 L104.4 450.2 L101.7 449.3 L99.0 448.9Z"/></clipPath></defs>
<g clip-path="url(#cn)">
<path d="M135.2 336.6 L147.1 329.3 L160.1 324.4 L166.6 322.2 L168.2 317.3 L181.8 316.8 L185.0 316.3 L195.8 315.2 L206.7 311.9 L213.2 310.8 L221.8 311.7 L227.3 313.5 L233.8 313.0 L234.6 321.7 L233.8 330.3 L236.5 340.1 L235.9 362.8 L225.6 374.8 L164.4 374.8 L159.5 372.0 L160.6 363.9 L155.8 360.7 L149.3 359.4 L141.7 360.7 L136.3 363.4 L128.7 362.3 L130.3 356.9 L137.3 353.1 L140.6 347.1 L142.8 345.0 L140.0 341.2ZM174.2 352.0 L177.4 350.1 L187.2 348.8 L195.3 346.0 L197.5 354.2 L186.1 355.3 L175.3 356.9 L175.5 354.0Z" fill="#C14702" fill-rule="evenodd"/>
<path d="M265.0 255.0 L294.9 255.0 L295.1 262.3 L297.8 265.0 L298.9 270.5 L296.2 272.1 L298.1 277.5 L296.7 281.8 L294.5 284.0 L292.9 288.3 L287.5 294.8 L285.9 300.8 L280.5 300.8 L274.0 295.9 L269.1 293.8 L264.2 291.6 L269.1 284.0 L272.3 281.8 L272.9 273.2 L268.5 265.6 L265.3 263.4Z" fill="#933204" fill-rule="evenodd"/>
<path d="M307.0 262.1 L346.5 261.8 L349.3 257.5 L353.0 252.8 L356.3 253.7 L357.9 257.5 L364.4 259.1 L371.1 261.3 L370.4 265.0 L367.7 268.3 L366.6 275.3 L366.6 281.8 L371.1 286.7 L367.7 288.3 L369.8 290.0 L364.4 292.1 L352.5 292.7 L343.8 292.1 L337.3 294.3 L330.8 292.7 L323.3 289.4 L317.8 286.7 L309.2 286.2 L303.8 279.7 L303.2 275.3 L305.1 269.9Z" fill="#933204" fill-rule="evenodd"/>
<path d="M660.0 423.8 L662.2 420.0 L664.4 423.1 L670.0 420.6 L671.6 418.1 L674.1 418.4 L675.6 423.1 L677.5 425.6 L680.0 425.0 L681.2 420.6 L684.1 419.1 L688.8 418.4 L691.6 415.9 L697.5 416.9 L699.4 419.4 L701.6 420.0 L702.5 423.8 L705.6 425.6 L709.1 426.6 L709.4 431.2 L710.9 434.4 L710.3 440.0 L711.2 445.0 L710.9 449.4 L708.1 450.9 L705.3 452.5 L705.6 456.2 L703.8 457.5 L699.4 457.2 L696.2 457.5 L693.1 457.5 L691.2 455.6 L687.5 454.4 L684.1 455.6 L682.8 458.8 L680.3 458.8 L679.7 455.6 L676.9 454.4 L675.6 450.6 L676.2 448.1 L678.8 447.5 L679.1 443.8 L677.8 440.9 L678.1 437.5 L674.7 436.9 L673.1 435.0 L668.8 433.8 L665.0 431.9 L661.2 428.8Z" fill="#F68720" fill-rule="evenodd"/>
<path d="M574.8 480.3 L578.6 484.1 L579.2 490.0 L585.7 492.8 L596.0 493.8 L599.8 498.7 L602.1 501.4 L601.4 507.4 L599.2 509.5 L596.5 507.4 L593.8 508.5 L595.4 511.7 L594.3 515.0 L591.6 515.5 L592.7 519.3 L595.4 523.6 L597.6 523.1 L596.5 524.7 L591.1 526.3 L591.1 530.1 L596.5 531.8 L596.0 533.9 L592.7 534.5 L591.1 538.3 L587.3 541.5 L585.7 546.9 L584.0 550.2 L579.2 551.3 L574.3 552.3 L572.7 550.2 L568.3 551.8 L565.1 554.5 L561.3 555.6 L559.1 554.0 L559.7 550.7 L561.8 548.5 L557.5 545.8 L553.2 542.0 L548.3 539.9 L544.5 539.3 L541.3 536.1 L539.1 531.8 L539.1 529.0 L535.8 525.3 L532.0 520.4 L534.8 516.6 L541.3 514.4 L545.0 511.7 L542.9 507.9 L543.4 503.6 L548.3 503.0 L551.5 505.2 L555.3 504.7 L561.8 501.4 L562.4 499.3 L566.7 498.2 L565.6 494.4 L562.9 487.9 L568.3 485.2 L571.6 481.9Z" fill="#E1640E" fill-rule="evenodd"/>
<path d="M553.7 501.4 L554.8 497.1 L557.0 495.5 L557.3 498.2 L555.3 501.4Z" fill="#E1640E" fill-rule="evenodd"/>
<path d="M607.9 516.0 L616.0 515.0 L620.3 513.3 L620.3 510.1 L622.0 510.6 L622.5 513.3 L629.0 510.6 L632.3 511.2 L635.5 514.4 L641.5 514.4 L642.9 520.9 L639.8 525.3 L637.7 531.2 L633.3 531.8 L629.0 533.9 L625.8 535.0 L620.3 536.6 L618.2 533.4 L615.5 529.0 L617.1 522.0 L612.8 522.0 L610.6 519.3Z" fill="#FECE65" fill-rule="evenodd"/>
<path d="M526.6 610.3 L529.6 608.0 L529.3 603.5 L531.1 598.3 L532.3 594.5 L532.6 590.0 L536.8 587.0 L541.3 586.3 L543.5 590.0 L543.9 595.3 L548.0 596.8 L551.8 599.0 L550.3 602.4 L552.5 601.3 L554.8 597.5 L558.1 596.0 L558.4 591.1 L561.5 588.1 L564.5 591.5 L566.8 590.0 L568.6 585.9 L572.8 584.8 L576.5 583.1 L575.4 586.3 L575.8 594.5 L577.3 594.9 L579.5 592.3 L581.8 594.5 L581.4 598.3 L584.0 599.8 L587.0 597.1 L590.0 599.4 L592.3 601.3 L590.0 604.3 L586.3 605.8 L584.4 608.8 L585.5 613.3 L581.0 617.8 L578.0 622.3 L574.6 622.3 L575.0 627.5 L575.0 633.5 L577.3 637.3 L576.5 642.5 L572.8 644.0 L570.9 646.3 L569.0 644.0 L564.5 645.1 L560.8 648.1 L555.9 649.3 L556.3 645.5 L557.4 641.0 L558.5 636.5 L561.9 633.5 L562.3 627.5 L559.3 626.8 L557.0 627.5 L555.5 625.3 L552.5 624.5 L551.0 623.8 L548.0 625.3 L545.0 626.0 L541.3 623.8 L539.0 620.0 L535.3 611.8 L532.3 612.5 L528.5 612.5Z" fill="#FEAC3A" fill-rule="evenodd"/>
<path d="M800.6 363.8 L806.2 360.0 L808.8 358.0 L806.2 353.8 L807.5 352.5 L812.5 351.2 L816.9 347.5 L818.8 344.4 L822.5 343.5 L825.0 347.5 L828.8 351.2 L833.0 350.6 L836.2 350.6 L836.9 351.9 L833.0 353.8 L832.5 356.9 L834.4 360.0 L831.2 362.5 L830.0 363.5 L825.0 363.8 L824.4 366.2 L826.2 367.5 L826.9 371.9 L822.5 372.5 L818.8 373.8 L816.2 375.0 L813.8 373.0 L810.0 372.5 L807.5 374.4 L805.0 373.0 L802.5 371.2 L800.6 368.0Z" fill="#FFFFE5" fill-rule="evenodd"/>
<path d="M826.9 371.9 L831.2 371.9 L831.2 363.8 L834.4 360.2 L837.5 361.2 L838.1 365.0 L841.9 364.4 L838.8 367.5 L840.0 371.2 L843.8 373.1 L844.4 376.2 L840.0 378.1 L845.0 379.4 L843.8 382.5 L844.4 386.2 L840.6 390.0 L839.4 393.1 L835.0 394.4 L830.6 392.5 L826.2 390.6 L823.1 387.5 L824.4 383.8 L826.2 381.2 L825.6 376.9 L825.0 373.1Z" fill="#FFFFE5" fill-rule="evenodd"/>
<path d="M771.9 385.6 L775.0 383.1 L781.2 381.9 L783.8 377.5 L785.0 373.1 L790.0 371.9 L795.0 370.0 L800.0 366.9 L801.0 368.8 L802.5 371.9 L807.5 374.4 L811.9 375.6 L813.1 380.0 L815.0 383.8 L813.1 386.9 L810.0 388.8 L808.8 392.5 L805.0 395.0 L803.8 397.5 L800.0 397.5 L797.5 399.4 L791.2 399.4 L789.4 396.2 L785.0 393.8 L782.5 390.6 L778.8 390.0 L775.0 391.2 L772.5 390.6Z" fill="#FFF8C1" fill-rule="evenodd"/>
<path d="M729.4 404.4 L733.8 401.2 L741.9 401.2 L743.1 398.8 L746.2 400.0 L752.5 399.4 L757.5 396.9 L757.5 399.4 L755.0 402.5 L755.6 405.0 L752.5 406.9 L751.2 410.0 L749.4 411.2 L748.1 415.6 L744.4 416.0 L741.9 413.1 L738.8 410.6 L735.6 408.1 L730.6 406.9Z" fill="#FFF8C1" fill-rule="evenodd"/>
<path d="M807.5 426.9 L809.4 419.4 L815.0 416.2 L818.8 413.1 L823.8 409.4 L830.0 408.8 L838.1 406.9 L836.9 411.2 L833.1 413.8 L830.0 416.2 L827.5 418.8 L827.5 423.1 L825.6 426.2 L826.2 428.8 L823.1 432.5 L821.2 436.2 L819.4 438.1 L817.5 436.2 L816.9 428.8 L817.5 425.6 L813.1 426.2 L810.0 427.5Z" fill="#FFF8C1" fill-rule="evenodd"/>
<path d="M721.0 496.2 L723.1 491.9 L726.9 491.2 L732.5 493.1 L737.5 494.4 L742.5 493.1 L750.0 494.4 L755.6 495.6 L759.4 498.8 L762.5 500.0 L762.5 504.4 L759.4 506.9 L759.4 512.5 L761.2 515.0 L766.2 515.0 L768.1 513.1 L769.8 515.0 L769.4 518.8 L766.2 519.4 L763.8 521.2 L760.0 519.8 L755.0 519.4 L750.0 520.0 L743.8 520.6 L738.8 518.8 L733.1 516.2 L728.8 512.5 L725.6 508.8 L722.5 503.8 L720.6 501.9Z" fill="#FFFFE5" fill-rule="evenodd"/>
<path d="M764.0 498.1 L766.2 495.6 L767.5 493.1 L769.4 490.6 L771.9 488.1 L774.8 486.9 L776.0 489.4 L775.6 492.5 L778.1 493.5 L779.0 496.2 L778.5 498.1 L775.0 497.5 L771.9 496.9 L769.4 498.1 L766.2 499.0Z" fill="#FECE65" fill-rule="evenodd"/>
<path d="M768.5 560.6 L771.2 558.1 L772.5 553.8 L776.2 551.9 L777.5 547.5 L777.2 542.5 L779.4 541.2 L782.5 545.0 L783.1 548.8 L787.5 549.4 L790.0 547.5 L792.5 550.0 L789.4 553.1 L787.5 556.9 L785.0 558.8 L783.8 563.8 L782.5 568.5 L778.1 568.5 L776.2 565.0 L773.1 563.8 L769.4 563.8Z" fill="#FFFFE5" fill-rule="evenodd"/>
<path d="M830.0 570.0 L831.9 570.6 L834.4 572.5 L837.5 575.6 L839.8 577.5 L837.5 580.0 L835.6 583.1 L836.0 587.5 L837.5 591.2 L835.0 592.5 L832.5 594.8 L830.0 593.1 L826.9 591.2 L828.5 587.5 L828.1 583.8 L828.8 578.8 L829.4 574.4Z" fill="#F68720" fill-rule="evenodd"/>
<path d="M897.5 545.8 L900.8 544.5 L902.0 540.5 L904.5 538.2 L907.0 538.0 L911.0 541.5 L914.0 544.0 L917.2 548.2 L917.5 552.5 L916.0 552.5 L911.0 552.5 L907.0 555.0 L905.0 555.5 L902.5 553.0 L900.0 551.0 L898.0 548.0Z" fill="#FFFFE5" fill-rule="evenodd"/>
<path d="M901.2 533.2 L904.8 530.0 L909.5 534.5 L916.0 534.5 L917.2 533.2 L917.5 539.2 L912.5 539.8 L909.0 537.8 L906.5 536.5 L903.2 533.5Z" fill="#FFFFE5" fill-rule="evenodd"/>
<path d="M853.1 580.6 L857.5 576.2 L862.5 571.9 L863.8 567.5 L868.8 562.5 L873.8 560.0 L876.9 557.2 L881.2 558.8 L885.0 558.1 L890.0 561.2 L894.4 561.2 L892.5 564.4 L888.8 566.9 L886.2 570.0 L882.5 573.1 L878.8 575.6 L876.2 578.8 L870.0 581.9 L864.4 584.4 L857.5 584.8 L855.0 583.1Z" fill="#FFFFE5" fill-rule="evenodd"/>
<path d="M852.8 653.1 L855.6 647.5 L858.8 640.6 L863.8 639.4 L870.0 638.1 L873.8 637.5 L881.0 636.0 L886.0 641.0 L882.0 648.0 L880.0 653.0 L881.0 659.0 L875.0 661.0 L871.9 659.4 L868.1 660.0 L865.6 656.9 L861.9 655.6 L856.2 656.5 L853.5 655.6Z" fill="#FFFFE5" fill-rule="evenodd"/>
<path d="M770.3 719.3 L770.7 716.3 L771.3 714.0 L773.0 715.7 L774.7 716.7 L776.3 718.7 L777.3 716.3 L779.3 715.0 L781.0 717.3 L782.7 718.7 L784.3 720.7 L783.7 723.0 L781.3 721.0 L779.3 720.3 L776.3 721.3 L774.0 722.7 L772.7 722.0 L771.3 720.7Z" fill="#FFFFE5" fill-rule="evenodd"/>
<path d="M917.9 360.8 L922.5 355.8 L920.8 351.7 L920.0 346.7 L921.7 347.5 L925.0 344.8 L926.7 347.5 L927.9 350.0 L930.0 352.5 L933.3 353.3 L935.0 355.0 L933.3 358.3 L932.9 361.7 L930.0 362.5 L927.1 363.3 L926.7 365.8 L923.3 365.0 L920.0 363.3Z" fill="#FEE79B" fill-rule="evenodd"/>
</g>
<path d="M774.0 724.0 L775.0 721.5 L777.0 720.7 L778.5 721.8 L780.5 722.5 L780.7 724.5 L779.0 725.5 L778.0 726.5 L776.5 725.3 L775.0 725.5Z" fill="#662506" fill-rule="evenodd"/>
<g fill="none" stroke="#606060" stroke-width="1" stroke-linejoin="round" stroke-linecap="round">
<path d="M458.0 308.2 L456.5 309.9 L454.4 310.8 L452.5 312.0 L451.5 314.0 L451.2 316.2 L452.2 318.3 L453.8 320.0 L452.8 322.2 L452.5 324.5 L450.0 325.4 L447.4 325.8 L445.0 327.0 L442.7 328.5 L440.0 328.8 L438.8 330.4 L437.5 332.0 L435.7 330.8 L435.0 328.8 L432.3 329.0 L430.0 330.5 L427.2 331.4 L425.1 333.6 L422.6 335.1 L420.0 336.2 L417.6 338.0 L416.1 340.7 L413.8 342.5 L413.1 345.2 L412.0 347.7 L410.5 350.0 L407.5 350.8 L404.5 351.0 L401.4 351.1 L398.6 352.8 L395.5 353.0 L394.2 355.6 L394.2 358.6 L393.1 361.2 L392.6 364.0 L393.0 367.0 L391.6 369.7 L391.2 372.5 L390.1 375.3 L388.5 377.9 L386.2 380.0 L386.0 381.9 L385.5 383.8"/>
<path d="M385.5 383.8 L382.8 384.4 L380.4 385.8 L377.4 385.5 L375.0 387.0 L372.0 387.1 L369.3 388.5 L366.4 388.9 L363.7 390.3 L360.8 391.0 L357.9 391.6 L355.0 392.0 L352.5 392.8 L350.4 394.5 L347.6 394.5 L345.5 396.2 L346.5 397.7 L346.2 399.5 L349.4 399.3 L352.5 400.0 L353.2 402.8 L352.3 405.6 L353.1 408.4 L353.0 411.2 L355.2 412.7 L357.4 414.0 L359.3 415.9 L361.7 417.1 L363.8 418.8 L365.4 421.1 L366.2 423.8 L364.4 425.5 L362.5 427.0 L360.1 428.2 L357.5 428.8 L357.0 430.9 L355.5 432.5 L357.5 434.9 L360.0 436.9 L362.5 438.8 L362.3 441.6 L362.5 444.5 L359.7 443.4 L356.6 443.6 L353.7 443.1 L350.8 442.4 L347.9 441.9 L345.0 441.2 L343.3 441.7"/>
<path d="M146.0 479.3 L148.7 478.3 L151.6 478.4 L154.3 477.3 L157.3 477.5 L160.0 476.7 L161.6 474.1 L162.7 471.4 L164.4 468.9 L165.8 466.2 L166.5 463.2 L168.6 461.0 L170.0 458.3 L172.8 459.0 L175.7 459.3 L178.5 460.3 L181.4 460.6 L184.3 460.5 L187.2 460.8 L190.0 461.7 L192.5 459.7 L195.8 459.1 L198.5 457.5 L201.2 455.8 L203.9 454.1 L206.7 452.7 L209.5 452.7 L212.2 452.3 L215.0 452.7 L217.2 454.6 L219.8 456.0 L221.7 458.3 L224.7 458.6 L227.8 458.8 L230.8 459.1 L233.9 458.6 L237.0 458.5 L240.0 459.3 L242.7 457.8 L245.7 457.0 L248.4 455.5 L251.3 454.6 L253.9 452.9 L256.7 451.7 L259.4 451.1 L262.3 451.5 L264.9 450.0 L267.7 449.7 L270.6 449.8 L273.3 449.3 L274.6 446.8 L275.5 444.2 L276.7 441.7 L279.6 441.3 L282.4 440.6 L285.3 440.5 L288.2 440.3 L291.1 439.8 L293.9 439.0 L296.7 438.3 L299.7 438.0 L302.9 438.4 L305.8 437.4 L308.9 437.4 L312.0 437.5 L315.0 436.7 L317.5 437.8 L320.3 438.3 L322.7 439.6 L325.4 440.3 L327.9 441.6 L330.6 442.0 L333.3 442.7 L335.8 442.5 L338.4 442.9 L340.8 442.0 L343.3 441.7"/>
<path d="M343.3 441.7 L340.5 442.3 L338.3 444.3 L335.7 445.2 L333.3 446.7 L335.6 448.6 L338.3 450.0 L337.6 452.9 L336.7 455.8 L335.0 458.3 L335.7 461.3 L337.2 464.0 L337.6 467.0 L338.3 470.0 L338.9 472.5 L340.1 474.7 L341.7 476.7 L341.4 479.4 L340.6 481.9 L339.5 484.3 L338.3 486.7 L339.6 489.3 L342.2 490.9 L343.7 493.4 L345.5 495.6 L346.7 498.3 L349.4 498.9 L351.7 500.6 L354.4 501.2 L356.8 502.6 L359.1 504.2 L361.7 505.0 L364.6 506.0 L367.7 506.2 L370.6 507.4 L373.7 507.7 L376.7 508.3 L379.3 509.6 L382.3 509.6 L385.1 510.6 L387.7 511.7 L390.3 513.1 L393.3 513.3 L396.0 514.3 L398.9 514.9 L401.8 515.4 L404.5 516.3 L407.3 517.1 L410.0 518.3 L412.9 518.5 L415.7 517.8 L418.5 517.2 L421.1 516.1 L424.0 515.9 L426.7 515.0 L429.5 516.4 L432.0 518.3 L435.0 519.5 L437.4 521.5 L440.0 523.3 L441.2 525.8 L442.2 528.4 L442.5 531.2 L444.8 532.8 L447.7 532.6 L449.8 534.5 L452.5 535.0 L454.0 532.6 L455.0 530.0 L458.1 530.2 L460.8 531.6 L463.8 532.5 L465.1 530.2 L465.0 527.5 L468.1 527.4 L470.9 525.9 L473.8 525.0 L474.8 522.6 L475.3 520.1 L475.3 517.4 L476.2 515.0"/>
<path d="M476.2 515.0 L477.3 512.2 L477.6 509.2 L477.8 506.3 L477.5 503.3 L478.1 500.4 L478.8 497.5 L478.8 495.0 L478.6 492.4 L477.1 490.1 L477.5 487.5 L479.7 485.4 L482.8 484.7 L485.0 482.5 L487.5 483.3 L489.3 485.2 L491.7 486.0 L493.8 487.5 L494.8 489.8 L495.8 492.1 L497.4 494.1 L498.8 496.2 L500.1 498.7 L501.5 501.1 L502.5 503.8 L504.9 505.8 L507.5 507.5 L509.9 508.9 L512.6 509.9 L515.0 511.2 L517.5 509.3 L520.0 507.5 L521.6 508.9 L523.6 510.0 L525.0 511.7 L527.4 512.2 L529.3 513.6 L531.5 514.4 L533.5 515.0 L534.8 516.6 L537.0 516.0 L539.3 515.6 L541.3 514.4 L543.4 513.4 L545.0 511.7 L543.6 510.0 L542.9 507.9 L543.0 505.7 L543.4 503.6 L545.9 503.9 L548.3 503.0 L550.0 503.9 L551.5 505.2 L553.5 505.7 L555.3 504.7 L554.1 503.2 L553.7 501.4 L554.7 499.4 L554.8 497.1 L557.0 495.5"/>
<path d="M385.5 383.8 L388.6 383.9 L391.5 382.7 L394.6 382.9 L397.5 382.0 L398.2 384.1 L400.0 385.5 L402.9 385.7 L405.6 386.9 L408.5 386.8 L411.2 387.5 L412.5 390.0 L415.4 389.5 L418.3 389.8 L421.2 390.0 L422.2 392.7 L424.2 394.8 L425.0 397.5 L428.0 397.3 L430.8 396.4 L433.8 396.2 L436.1 396.9 L438.0 398.3 L440.0 399.5 L442.0 398.7 L444.1 398.1 L446.2 397.5 L448.2 399.2 L450.3 400.5 L453.0 400.9 L455.0 402.5 L457.6 401.9 L459.5 400.1 L461.9 399.3 L463.8 397.5 L465.8 396.2 L467.1 394.2 L468.8 392.5 L468.4 390.0 L469.4 387.5 L469.5 385.0 L468.8 382.5 L470.7 382.1 L472.5 381.2 L475.4 382.0 L477.7 384.2 L480.5 385.4 L483.1 386.8 L485.7 388.1 L488.8 388.8 L491.2 387.1 L492.5 384.5 L495.4 384.6 L498.3 383.8 L501.2 383.8 L503.5 385.3 L505.7 386.8 L507.8 388.6 L510.1 389.9 L512.5 391.2 L515.1 392.9 L518.1 393.8 L520.9 395.1 L523.8 396.2 L526.1 398.3 L529.0 399.6 L531.6 401.2 L534.4 402.3 L537.6 403.0 L540.0 405.0 L542.5 405.7 L545.1 406.4 L547.6 407.1 L550.0 408.3 L552.8 409.0 L555.3 410.3 L557.5 412.0 L560.0 413.3 L561.9 415.8 L564.1 418.2 L566.7 420.0 L567.5 422.1 L569.3 423.4 L570.8 425.0 L571.8 427.1 L571.9 429.4 L571.7 431.7 L573.5 433.9 L573.7 436.9 L575.7 439.1 L576.7 441.7 L575.8 443.8 L575.6 446.1 L575.0 448.3 L573.8 450.2 L572.3 452.0 L571.7 454.2 L569.3 455.4 L567.6 457.5 L565.0 458.3 L564.2 460.5 L564.1 462.8 L563.3 465.0 L561.1 466.2 L560.2 468.6 L558.3 470.0 L558.7 472.5 L558.3 475.0 L560.5 477.2 L563.3 478.3 L561.8 480.5 L560.0 482.5 L557.5 482.9 L555.0 481.7 L552.6 481.3 L550.0 481.7 L547.5 481.1 L544.9 480.9 L542.6 479.3 L540.0 479.2 L538.7 481.0 L537.0 482.5 L538.3 484.3 L539.6 486.1 L540.0 488.3 L542.0 489.9 L544.6 490.2 L546.7 491.7 L549.4 492.3 L551.8 493.7 L554.2 495.0 L556.7 496.7"/>
<path d="M472.5 307.5 L473.5 310.1 L474.5 312.8 L476.9 314.7 L476.9 317.8 L478.3 320.2 L480.0 322.5 L482.1 324.7 L482.6 327.7 L484.5 330.0 L482.5 331.3 L481.5 333.7 L479.5 335.0 L481.3 337.7 L484.3 339.2 L486.5 341.5 L488.8 343.8 L490.5 344.8 L492.5 345.5 L492.6 348.0 L493.0 350.6 L493.8 353.0 L495.2 351.3 L497.1 350.1 L498.8 348.8 L500.8 348.9 L502.5 350.0 L505.1 348.8 L508.0 348.2 L510.6 346.7 L513.4 346.2 L516.2 345.5 L518.7 346.5 L521.3 346.0 L523.8 346.9 L526.2 347.5 L527.5 349.6 L527.5 352.0 L526.5 354.7 L526.2 357.5 L524.6 360.2 L522.4 362.5 L520.0 364.5 L517.5 365.0 L515.4 366.2 L513.0 367.0 L515.3 368.1 L517.6 369.2 L520.0 370.0 L522.5 371.2 L525.1 372.4 L527.7 373.3 L530.0 375.0 L532.7 375.3 L535.1 376.2 L537.5 377.5 L538.5 380.5 L538.8 383.8 L540.9 384.3 L542.7 386.0 L545.0 386.2 L547.4 387.5 L549.7 388.9 L551.8 390.7 L553.8 392.5 L555.4 390.0 L558.3 388.7 L560.0 386.2 L557.8 384.4 L555.0 383.8 L558.0 383.2 L561.1 382.5 L563.8 381.0 L566.7 380.0 L569.2 380.8 L571.8 381.5 L574.1 382.7 L576.7 383.3 L578.6 381.1 L581.1 379.5 L583.3 377.5 L585.8 376.6 L588.4 376.3 L590.8 375.3 L593.2 376.3 L595.8 376.3 L596.5 379.0 L598.2 381.4 L598.7 384.2 L596.8 386.0 L594.8 387.8 L593.3 390.0 L591.2 391.6 L589.6 393.9 L587.5 395.5 L585.0 396.7 L584.4 399.5 L583.5 402.2 L583.3 405.0 L585.0 407.5 L586.7 410.0 L589.0 411.6 L591.7 412.5 L594.4 414.0 L597.0 415.7 L600.0 416.7"/>
<path d="M600.0 416.7 L602.9 415.6 L606.0 415.5 L609.2 415.4 L612.1 414.2 L615.0 413.3 L617.7 412.4 L620.3 411.4 L622.9 410.3 L625.8 410.0 L626.8 407.3 L626.7 404.5 L626.3 401.6 L627.1 398.9 L627.5 396.1 L627.5 393.3 L629.1 390.8 L629.3 387.8 L630.4 385.1 L631.7 382.5 L633.5 380.5 L635.8 379.2 L638.8 378.2 L641.7 377.0 L643.1 378.2 L645.0 378.3 L645.3 380.6 L646.9 382.6 L647.0 385.0 L645.9 387.0 L645.1 389.2 L643.3 390.8 L642.7 393.8 L641.1 396.4 L640.0 399.2 L643.0 399.8 L645.7 401.1 L648.3 402.5 L651.2 403.0 L653.9 404.1 L656.7 405.0 L658.4 407.5 L660.8 409.2"/>
<path d="M600.0 416.7 L603.0 416.6 L605.8 417.5 L605.8 420.0 L608.0 422.3 L610.5 424.3 L613.3 425.8 L614.6 427.7 L615.9 429.6 L616.7 431.7 L618.5 433.7 L620.0 435.8 L620.8 438.3 L620.7 441.2 L620.2 444.0 L619.2 446.7 L620.2 448.7 L622.3 449.7 L623.3 451.7 L625.8 453.0 L627.4 455.5 L630.0 456.7 L631.8 458.5 L634.5 458.7 L636.4 460.2 L638.3 461.7 L639.4 459.3 L639.0 456.7 L639.8 454.2 L640.0 451.7 L643.0 450.7 L645.8 449.2 L646.5 446.3 L646.7 443.3 L644.2 442.8 L642.4 440.8 L640.0 440.0 L639.9 437.7 L638.8 435.6 L638.3 433.3 L639.5 431.5 L641.4 430.2 L642.5 428.3 L642.8 426.1 L641.7 424.2 L644.7 424.6 L647.5 423.2 L650.4 423.7 L653.3 423.0"/>
<path d="M653.3 423.0 L653.2 420.5 L653.7 418.1 L654.0 415.7 L654.2 413.3 L656.1 411.4 L658.6 410.6 L660.8 409.2"/>
<path d="M660.8 409.2 L662.2 410.6 L664.2 410.8 L667.0 410.8 L669.8 411.6 L672.7 411.0 L675.5 411.5 L678.3 411.7 L678.8 409.1 L680.0 406.7 L681.7 405.9 L683.3 405.0 L682.3 403.0 L682.5 400.8 L684.3 398.5 L686.2 396.2 L688.3 394.2 L689.5 392.3 L691.9 391.8 L693.3 390.0 L695.5 388.1 L696.2 385.1 L698.5 383.2 L700.0 380.8 L701.7 379.2 L703.3 377.4 L705.0 375.8 L706.6 376.8 L708.3 377.5 L710.9 377.2 L713.2 376.0 L715.8 375.8 L718.0 374.8 L720.3 374.1 L722.5 373.3 L722.7 375.3 L724.2 376.7"/>
<path d="M653.3 423.0 L653.0 424.7 L653.8 426.2 L655.8 426.6 L657.5 427.8 L659.2 428.9 L661.2 428.8 L663.1 430.3 L665.0 431.9 L666.9 432.7 L668.8 433.8 L670.9 434.5 L673.1 435.0 L674.7 436.9 L676.5 436.7 L678.1 437.5 L678.4 439.2 L677.8 440.9 L679.1 443.8 L679.0 445.6 L678.8 447.5 L676.2 448.1 L675.6 450.6 L676.6 452.4 L676.9 454.4 L676.9 456.9 L677.5 459.4 L674.6 459.8 L671.7 460.0 L669.2 460.6 L666.8 461.2 L664.3 461.7 L661.7 461.7 L662.7 464.3 L664.2 466.7 L661.3 466.7 L658.8 468.2 L655.9 468.1 L653.3 469.2 L650.9 468.0 L649.1 466.1 L646.7 465.0 L644.5 465.7 L642.2 465.4 L640.0 465.8 L640.4 468.3 L640.0 470.9 L640.8 473.3 L638.9 474.7 L637.5 476.7 L640.3 477.9 L642.5 480.0 L641.6 482.6 L639.8 484.5 L638.3 486.7 L639.3 489.4 L639.8 492.2 L640.0 495.0 L637.4 494.8 L634.9 495.2 L632.6 497.0 L630.0 496.7 L628.9 499.6 L626.7 501.7 L628.2 504.3 L630.0 506.7 L627.9 507.4 L626.7 509.2"/>
<path d="M555.3 504.7 L557.5 503.6 L559.7 502.7 L561.8 501.4 L562.4 499.3 L564.6 498.9 L566.7 498.2 L566.4 496.2 L565.6 494.4 L565.3 492.0 L564.1 489.9 L562.9 487.9 L565.4 486.1 L568.3 485.2 L569.7 483.3 L571.6 481.9 L573.2 481.0 L574.8 480.3 L576.8 482.1 L578.6 484.1 L578.2 487.1 L579.2 490.0 L581.2 491.2 L583.6 491.8 L585.7 492.8 L588.3 492.8 L590.9 492.9 L593.4 493.7 L596.0 493.8 L597.4 496.6 L599.8 498.7 L601.3 499.7 L602.1 501.4 L601.8 504.4 L601.4 507.4 L599.2 509.5 L601.0 510.6 L602.5 512.0 L604.2 513.5 L606.3 514.4 L607.9 516.0 L610.5 515.0 L613.3 515.6 L616.0 515.0 L618.0 513.9 L620.3 513.3 L620.3 510.1 L622.0 510.6 L624.4 510.1 L626.7 509.2"/>
<path d="M626.7 509.2 L629.0 510.6 L630.8 510.2 L632.3 511.2 L633.5 513.2 L635.5 514.4 L638.5 514.7 L641.5 514.4 L644.2 512.8 L647.0 512.3 L649.6 513.3 L650.6 515.4 L651.7 517.5 L654.6 518.0 L657.1 519.7 L660.0 520.0 L662.5 521.9 L665.7 522.5 L668.3 524.2 L671.3 523.7 L674.2 523.0"/>
<path d="M674.2 523.0 L676.9 524.2 L679.5 525.5 L681.7 527.5 L683.6 529.2 L686.1 530.1 L687.8 532.0 L690.0 533.3 L692.9 532.8 L695.8 533.3"/>
<path d="M674.2 523.0 L672.8 525.1 L673.0 527.8 L671.7 530.0 L673.8 531.7 L675.0 534.2 L673.1 536.6 L670.3 537.8 L668.3 540.0 L667.2 542.7 L666.5 545.4 L666.7 548.3 L664.3 549.8 L662.1 551.5 L660.0 553.3 L657.3 554.8 L655.0 556.7 L653.8 559.4 L652.4 562.1 L651.7 565.0 L650.0 567.5 L647.8 568.2 L645.5 566.9 L643.3 567.5 L642.0 564.8 L640.0 562.5 L637.7 562.1 L635.5 562.7 L633.3 563.3 L631.1 562.3 L628.7 562.1 L626.7 560.8 L624.6 562.6 L623.3 565.0 L623.8 567.2 L623.9 569.6 L625.0 571.7 L623.0 573.5 L621.3 575.6 L619.8 577.8 L618.3 580.0"/>
<path d="M724.2 376.7 L722.6 379.3 L721.8 382.2 L720.8 385.0 L719.7 387.4 L719.8 390.2 L718.1 392.4 L717.5 395.0 L715.3 397.0 L713.7 399.5 L711.7 401.7 L711.5 403.4 L711.2 405.0 L711.9 408.1 L713.7 409.3 L715.1 410.9 L716.6 412.5 L715.8 414.7 L715.3 416.9 L713.4 418.4 L714.1 420.0 L712.2 421.3 L711.1 423.3 L709.7 425.0 L710.1 428.1 L710.3 431.2 L711.2 433.0 L711.6 435.0 L710.9 437.1 L710.9 439.4 L711.7 442.2 L711.9 445.0 L712.9 447.4 L712.5 450.0 L713.0 451.6 L713.8 453.1 L712.7 454.3 L711.6 455.6 L710.2 457.7 L709.8 460.2 L708.8 462.5 L707.8 464.5 L707.5 466.7 L706.6 468.8 L707.2 470.8 L708.3 472.8 L708.3 475.0"/>
<path d="M708.3 475.0 L709.8 477.6 L711.0 480.3 L711.7 483.3 L713.1 485.3 L714.6 487.2 L715.6 489.5 L716.7 491.7 L718.5 493.0 L719.4 495.1 L720.8 496.7 L720.7 498.9 L721.0 501.1 L720.8 503.3"/>
<path d="M708.3 475.0 L711.4 474.3 L714.1 472.5 L717.1 471.4 L720.2 470.8 L723.3 470.0 L726.0 469.1 L728.2 467.2 L731.1 466.8 L733.3 465.0 L735.6 464.3 L737.8 463.3 L740.0 462.5 L742.7 462.2 L745.4 461.8 L748.1 461.3 L750.9 461.3 L753.6 460.7 L756.2 460.0 L758.5 458.8 L760.4 456.9 L762.8 455.9 L765.0 454.5 L767.5 453.8 L768.4 451.0 L768.9 448.1 L768.5 445.1 L769.4 442.3 L769.4 439.4"/>
<path d="M720.8 503.3 L717.9 502.8 L715.2 504.1 L712.3 503.4 L709.5 504.0 L706.7 504.2 L704.1 503.3 L701.3 503.8 L698.7 503.8 L695.9 504.1 L693.3 503.3 L695.0 504.9 L696.1 507.1 L698.3 508.3 L700.1 510.6 L703.0 511.3 L705.0 513.3 L702.2 514.6 L700.0 516.7 L697.2 517.9 L694.2 518.3 L694.1 520.5 L694.3 522.8 L694.2 525.0 L695.1 527.7 L695.4 530.5 L695.8 533.3"/>
<path d="M695.8 533.3 L697.9 535.0 L700.3 536.3 L701.7 538.9 L704.2 540.0 L704.3 542.8 L704.6 545.5 L705.0 548.3 L702.9 549.2 L702.1 551.6 L700.0 552.5 L697.4 552.7 L695.1 554.2 L692.6 554.7 L690.0 555.0 L687.8 555.8 L685.4 555.8 L683.3 556.7 L680.4 556.6 L677.7 557.5 L675.0 558.3 L674.4 560.1 L673.3 561.7 L674.5 564.1 L674.9 566.6 L675.6 569.1 L675.8 571.7 L677.3 573.8 L678.7 575.9 L680.7 577.6 L681.7 580.0"/>
<path d="M476.2 515.0 L479.3 515.7 L481.7 517.6 L484.6 518.6 L487.0 520.6 L490.0 521.2 L491.1 524.1 L492.5 526.8 L493.2 529.8 L495.3 532.1 L496.2 535.0 L496.8 537.7 L498.3 540.0 L498.0 542.5 L497.5 545.0 L498.7 547.2 L499.8 549.6 L501.5 551.5 L503.3 553.3 L503.6 556.2 L503.7 559.2 L505.3 562.0 L505.0 565.0 L505.3 567.9 L504.9 570.9 L505.2 573.8 L505.8 576.7 L506.1 579.6 L506.7 582.5 L506.7 585.4 L506.7 588.3"/>
<path d="M506.7 588.3 L504.6 589.1 L502.5 590.0 L500.4 589.9 L498.3 590.0 L498.6 592.5 L497.7 595.0 L498.0 597.5 L498.3 600.0 L495.9 600.7 L493.9 602.3 L491.7 603.3 L489.8 603.7 L488.3 605.0"/>
<path d="M506.7 588.3 L507.9 591.0 L508.4 593.8 L508.3 596.7 L509.3 599.2 L510.5 601.5 L510.8 604.2 L512.2 601.9 L511.8 599.0 L513.3 596.7 L515.0 595.0 L516.7 593.3 L517.2 592.6 L518.9 594.3 L519.8 596.7 L521.8 598.3 L523.0 599.5 L523.2 601.2 L524.9 602.6 L526.2 604.2 L524.9 605.6 L523.2 606.5 L524.2 607.9 L524.4 609.5 L526.4 610.8 L527.2 612.9 L528.5 614.8 L529.3 612.8 L531.1 611.8 L533.0 611.9 L534.9 611.8 L536.8 614.1 L537.5 617.0 L538.7 618.9 L539.6 621.0 L540.5 623.0 L541.1 625.3 L543.3 626.7 L543.9 629.0 L545.7 630.7 L546.3 633.2 L548.0 635.0 L549.1 636.7 L548.8 638.8 L549.5 641.1 L551.2 642.8 L552.5 644.8 L554.5 646.8 L555.9 649.2 L558.4 649.2 L560.8 648.1 L562.9 646.9 L564.5 645.1 L566.7 644.3 L569.0 644.0 L570.9 646.2 L572.8 644.0 L574.8 643.7 L576.5 642.5 L576.4 639.8 L577.2 637.2 L576.3 635.3 L575.0 633.5 L575.0 630.5 L575.0 627.5 L575.3 624.8 L574.6 622.2 L576.3 622.0 L578.0 622.2 L579.4 619.9 L581.0 617.8 L583.5 615.8 L585.5 613.2 L585.0 611.0 L584.4 608.8 L585.6 607.4 L586.2 605.8 L588.2 605.2 L590.0 604.2 L591.3 602.9 L592.2 601.2 L592.2 599.2 L591.1 597.5 L593.8 596.4 L596.0 596.4 L598.2 596.7 L600.5 596.4 L602.0 597.5 L599.8 599.0 L600.5 601.1 L600.8 603.3 L602.3 605.3 L602.1 607.9 L603.3 610.0 L606.1 609.5 L608.9 610.5 L611.7 610.0 L613.4 609.2 L614.2 607.5 L615.7 608.9 L617.5 610.0 L618.0 612.2 L617.7 614.5 L617.5 616.7 L616.2 618.5 L615.2 620.4 L613.3 621.7 L610.8 621.8 L608.3 621.6 L605.8 621.9 L603.3 621.7 L601.9 622.9 L600.0 623.3 L597.3 623.1 L595.0 621.7 L592.4 622.3 L590.0 623.3 L589.8 626.0 L588.3 628.3 L589.7 630.7 L590.8 633.3 L591.7 636.2 L591.7 639.2 L594.2 638.4 L596.8 637.9 L599.2 636.7 L600.8 638.6 L602.9 639.6 L605.0 640.8 L603.9 643.7 L604.2 646.7 L602.4 648.6 L601.8 651.0 L600.8 653.3 L602.0 655.4 L602.5 657.8 L603.3 660.0 L605.6 661.9 L606.7 665.0 L609.2 666.7 L608.0 669.2 L606.7 671.7 L605.5 673.8 L605.7 676.3 L604.2 678.3 L606.0 679.6 L607.3 681.3 L608.3 683.3 L610.7 682.5 L613.3 682.5 L615.2 684.5 L616.7 686.7 L619.0 687.2 L621.1 688.3 L623.3 689.2 L625.5 688.8 L627.7 688.0 L630.0 688.3 L632.2 690.4 L633.3 693.3 L633.2 695.6 L633.4 697.8 L632.5 700.0 L629.6 701.3 L626.7 702.5 L625.5 704.5 L623.3 705.3 L621.7 706.7"/>
<path d="M617.5 616.7 L620.2 616.8 L622.5 615.6 L625.0 615.0 L627.6 614.1 L630.5 614.8 L633.1 613.6 L635.8 613.3 L636.7 610.9 L636.7 608.3 L634.3 608.5 L632.1 607.7 L630.0 606.7 L628.5 604.5 L626.4 603.0 L624.2 601.7 L623.9 599.8 L625.0 598.3 L627.2 597.7 L629.4 597.1 L631.7 596.7 L634.8 597.6 L637.5 599.2 L639.7 597.3 L642.4 596.2 L645.0 595.0 L646.3 593.0 L648.0 591.3 L650.0 590.0 L652.6 588.8 L654.3 586.5 L656.7 585.0 L659.0 585.5 L661.2 586.5 L663.3 587.5 L665.5 586.9 L667.8 588.1 L670.0 587.5 L671.2 589.6 L672.5 591.7 L673.7 594.6 L674.6 597.6 L676.7 600.0 L679.7 600.9 L682.2 602.9 L685.0 604.2 L687.1 605.0 L689.2 605.8"/>
<path d="M618.3 580.0 L619.6 582.1 L621.7 583.3 L624.4 584.2 L626.7 585.8 L627.4 588.0 L629.2 589.6 L630.0 591.7 L632.1 593.1 L634.6 593.7 L636.7 595.0 L636.9 597.1 L637.5 599.2"/>
<path d="M604.2 678.3 L605.7 676.7 L607.0 675.0 L608.3 673.3 L610.5 672.7 L612.8 672.4 L615.0 671.7 L617.2 672.5 L619.5 673.3 L621.7 674.2 L624.7 675.1 L627.5 676.4 L630.0 678.3 L632.2 676.8 L633.8 674.5 L636.4 673.6 L638.3 671.7 L640.4 670.5 L642.4 669.0 L644.8 668.3 L646.7 666.7 L648.2 664.1 L649.9 661.6 L651.7 659.2 L653.0 661.2 L655.1 662.5 L656.7 664.2 L658.9 665.6 L661.5 666.3 L663.3 668.3 L665.3 667.3 L667.0 666.0 L669.2 664.0 L671.7 662.5 L674.0 660.8 L676.7 660.0 L679.0 658.5 L681.0 656.5 L683.3 655.0 L685.4 654.1 L687.7 653.8 L690.0 653.3 L690.9 651.1 L692.5 649.2"/>
<path d="M690.8 578.3 L690.6 581.3 L689.0 583.8 L688.3 586.7 L688.6 589.2 L689.7 591.6 L690.3 594.1 L690.0 596.7 L689.1 599.1 L689.7 601.7 L689.7 604.2 L689.2 606.7 L689.5 609.5 L689.6 612.4 L690.8 615.0 L689.4 617.7 L687.5 620.0 L685.3 621.6 L684.4 624.3 L681.9 625.8 L680.8 628.3 L683.1 628.1 L685.1 626.7 L687.5 626.7 L689.7 628.9 L692.5 630.0 L693.9 632.3 L694.2 635.0 L692.3 636.4 L690.0 636.7 L690.3 639.2 L690.8 641.7 L690.7 644.4 L692.6 646.5 L692.5 649.2"/>
<path d="M681.7 580.0 L683.4 582.7 L686.4 584.2 L688.3 586.7"/>
<path d="M690.8 578.3 L693.4 576.7 L696.0 575.3 L698.3 573.3 L701.3 573.2 L704.1 574.3 L707.0 574.6 L710.0 574.2 L711.5 572.2 L711.9 569.8 L712.5 567.5 L715.4 566.8 L718.3 566.7 L721.1 568.2 L724.3 568.2 L727.1 569.8 L730.0 570.8 L732.9 571.1 L735.4 572.9 L738.3 573.3 L740.5 574.8 L742.5 576.5 L745.0 577.5 L747.1 576.4 L749.6 576.7 L751.7 575.8 L753.9 575.4 L755.8 574.2 L758.2 575.4 L760.0 577.5 L761.6 575.6 L763.5 574.2 L765.8 573.3 L767.8 575.6 L769.2 578.3 L768.9 581.2 L769.2 584.2 L771.7 585.8 L773.3 588.3"/>
<path d="M773.3 588.3 L775.0 586.3 L776.7 584.2 L779.1 583.2 L781.8 583.3 L784.3 582.8 L786.7 581.7 L788.9 580.4 L790.4 578.2 L792.7 577.0 L795.0 575.8 L797.1 574.5 L799.8 574.2 L801.7 572.5 L804.2 572.7 L806.7 572.5 L809.2 572.8 L811.7 572.5"/>
<path d="M811.7 572.5 L811.1 569.5 L811.5 566.3 L810.8 563.3 L808.9 560.8 L807.8 557.9 L806.7 555.0 L807.9 552.7 L809.9 550.8 L810.8 548.3 L808.5 547.1 L806.5 545.4 L804.2 544.2 L801.8 543.0 L799.9 541.2 L798.3 539.2"/>
<path d="M811.7 572.5 L814.2 571.8 L816.7 571.2 L819.2 570.8 L822.0 569.6 L824.2 567.5 L825.0 569.2 L826.7 570.0 L824.4 571.9 L821.7 573.3 L822.0 575.2 L823.3 576.7 L826.1 576.1 L828.3 574.2 L830.2 572.8 L831.3 570.8 L833.7 571.9 L834.8 574.7 L837.5 575.5 L839.2 577.5 L841.7 578.2 L844.3 577.5 L846.7 578.3 L848.3 580.8"/>
<path d="M848.3 580.8 L847.5 583.8 L846.7 586.7 L848.4 588.3 L849.7 590.3 L851.7 591.7 L852.1 594.3 L853.6 596.6 L854.2 599.2 L854.1 601.2 L854.2 603.3"/>
<path d="M854.2 603.3 L856.7 604.1 L859.2 605.0 L860.2 607.1 L859.6 609.6 L860.8 611.7 L860.8 614.6 L861.6 617.3 L862.5 620.0 L864.0 622.0 L866.6 622.8 L868.0 625.0 L870.5 625.1 L872.9 623.9 L875.5 624.1 L878.0 624.0 L880.3 626.0 L882.9 627.7 L885.0 630.0"/>
<path d="M854.2 603.3 L851.4 604.6 L848.7 606.1 L846.0 607.6 L843.3 609.2 L840.5 610.1 L837.6 610.4 L835.0 611.7 L833.1 614.1 L830.7 615.8 L828.3 617.5 L829.4 620.5 L830.8 623.3 L829.2 625.4 L826.8 626.5 L825.0 628.3 L823.2 630.7 L820.7 632.4 L819.2 635.0 L820.1 637.2 L819.8 639.6 L820.8 641.7 L818.9 643.6 L818.3 646.3 L816.7 648.3 L815.9 650.7 L815.1 653.1 L813.3 655.0 L812.2 657.9 L810.9 660.7 L809.2 663.3 L808.6 665.5 L807.4 667.6 L807.5 670.0 L807.4 671.7 L806.7 673.3"/>
<path d="M806.7 673.3 L809.5 673.4 L812.2 673.3 L815.0 673.3 L817.1 674.5 L818.9 676.1 L821.3 677.0 L823.3 678.3 L824.9 680.3 L825.4 682.9 L826.7 685.0 L827.6 687.7 L826.5 690.6 L827.5 693.3 L828.3 695.7 L830.3 697.5 L830.8 700.0"/>
<path d="M806.7 673.3 L807.0 675.6 L806.2 677.8 L805.8 680.0 L804.7 677.4 L802.5 675.8 L799.5 676.8 L796.4 677.2 L793.3 677.5 L790.3 677.9 L787.3 678.6 L784.6 680.0 L781.7 680.8 L780.0 679.0 L777.5 678.3 L779.3 676.4 L780.3 673.9 L781.7 671.7 L783.9 669.5 L786.7 668.3 L786.6 666.2 L786.7 664.2 L785.0 663.3 L783.3 662.5 L781.0 664.1 L778.3 664.2 L775.6 664.0 L773.3 662.5"/>
<path d="M773.3 588.3 L775.4 590.5 L776.7 593.3 L777.3 596.1 L777.5 599.0 L778.3 601.7 L777.0 604.0 L775.0 605.8 L773.0 606.8 L771.9 608.9 L770.0 610.0 L769.7 612.7 L768.4 615.0 L767.8 617.6 L766.7 620.0 L767.8 621.9 L768.9 623.8 L770.8 625.0 L770.3 627.6 L771.0 630.0 L771.5 632.5 L771.7 635.0 L772.6 637.1 L774.4 638.4 L775.8 640.0 L776.6 642.2 L776.8 644.4 L776.7 646.7 L774.9 648.9 L774.2 651.7 L774.7 654.5 L773.5 657.1 L773.7 659.8 L773.3 662.5"/>
<path d="M773.3 662.5 L771.0 664.1 L768.3 664.2 L765.9 662.8 L763.3 661.9 L760.8 660.8 L758.3 661.7 L756.0 663.0 L754.2 665.0 L754.5 667.3 L754.9 669.6 L755.8 671.7 L754.1 672.4 L752.5 673.3 L751.3 670.8 L750.0 668.3 L747.2 667.7 L744.5 667.9 L741.7 668.3 L740.8 670.6 L738.9 672.5 L738.3 675.0"/>
<path d="M738.3 675.0 L735.7 675.0 L733.3 675.8 L731.4 676.8 L729.2 676.7 L728.3 674.6 L728.1 672.2 L727.5 670.0 L725.4 671.2 L723.0 670.8 L720.8 671.7 L719.7 669.7 L720.0 667.5 L721.3 665.3 L723.6 663.8 L725.0 661.7 L726.6 659.7 L727.0 657.2 L728.3 655.0 L727.2 652.8 L725.0 651.7 L725.2 648.7 L724.2 645.8 L721.5 644.9 L719.2 643.3 L716.3 644.2 L713.3 644.2 L710.9 645.9 L709.2 648.3 L706.8 647.2 L704.2 646.7 L701.6 647.9 L700.1 650.6 L697.5 651.7 L695.0 650.4 L692.5 649.2"/>
<path d="M738.3 675.0 L738.0 677.8 L738.5 680.6 L737.5 683.3 L737.1 685.8 L738.0 688.3 L737.5 690.8 L735.3 692.8 L734.2 695.8 L731.7 697.5 L730.3 700.2 L728.3 702.4 L726.7 705.0 L726.7 707.3 L726.6 709.5 L727.5 711.7 L726.5 713.7 L725.6 715.7 L724.2 717.5 L721.8 718.8 L719.1 719.4 L716.7 720.8 L715.4 722.6 L715.5 724.9 L714.2 726.7 L712.1 727.5 L710.4 729.1 L708.3 730.0 L707.4 733.1 L705.8 735.8 L703.1 736.7 L700.8 738.3 L700.2 740.8 L699.0 743.0"/>
<path d="M775.8 351.7 L776.8 353.7 L777.8 355.7 L779.2 357.5 L777.2 359.2 L775.3 360.8 L773.3 362.5 L774.0 364.1 L774.2 365.8 L777.0 366.7 L780.0 366.7 L781.2 369.4 L782.2 372.1 L782.5 375.0 L782.7 377.3 L781.9 379.5 L781.7 381.7 L779.0 382.0 L776.7 383.3 L774.4 384.8 L771.7 385.0 L770.5 387.7 L769.3 390.3 L767.5 392.6 L765.8 395.0 L767.2 397.2 L767.6 400.0 L769.4 402.0 L770.1 404.6 L771.7 406.7 L772.7 409.1 L774.9 410.8 L775.8 413.3 L774.9 416.3 L772.5 418.6 L771.7 421.7 L771.3 424.7 L769.5 427.3 L768.3 430.0 L766.4 430.5 L765.0 431.7 L766.7 434.0 L767.5 436.9 L769.2 439.2"/>
<path d="M769.2 439.2 L772.2 440.4 L775.3 441.0 L778.7 440.4 L781.7 441.7 L784.3 441.7 L786.8 442.1 L789.1 443.2 L791.7 443.3 L793.9 442.8 L796.1 442.3 L798.3 441.7"/>
<path d="M798.3 441.7 L797.8 438.8 L797.5 435.8 L798.5 433.6 L800.3 431.7 L800.8 429.2 L802.8 429.9 L805.0 430.0 L806.6 428.2 L807.0 425.5 L808.6 423.7 L810.0 421.7 L811.8 420.1 L813.3 418.3 L815.0 416.7 L817.2 414.3 L819.9 412.7 L822.5 410.8 L825.6 409.9 L828.8 409.8 L831.7 408.3 L834.7 407.7 L837.1 405.8 L840.0 405.0 L842.0 403.4 L843.2 401.1 L845.2 399.5"/>
<path d="M798.3 441.7 L798.0 444.3 L798.4 446.8 L799.2 449.2 L802.3 448.7 L804.7 446.4 L807.7 445.4 L810.8 445.0 L808.7 447.1 L806.0 448.4 L803.8 450.4 L801.7 452.5 L799.0 453.7 L796.7 455.4 L794.8 457.6 L792.5 459.2 L791.4 461.1 L790.8 463.4 L789.2 465.0 L790.9 466.5 L793.4 466.6 L795.0 468.3 L797.1 470.1 L798.9 472.2 L800.8 474.2 L803.9 474.6 L807.1 474.3 L810.2 474.6 L813.3 475.0"/>
<path d="M813.3 475.0 L814.3 472.7 L816.2 471.2 L817.5 469.2 L820.0 469.3 L822.4 468.0 L825.0 468.3 L826.3 470.0 L827.3 472.0 L829.2 473.3 L830.2 474.9 L830.8 476.7 L833.8 475.7 L837.0 476.8 L840.0 475.8 L842.4 474.4 L845.0 473.3 L846.8 475.7 L849.2 477.5 L851.9 476.4 L854.1 474.6 L856.7 473.3 L859.4 471.6 L861.6 469.4 L863.3 466.7 L865.3 465.6 L867.5 465.8"/>
<path d="M813.3 475.0 L814.9 476.8 L817.0 478.0 L818.3 480.0 L818.5 482.5 L820.1 484.4 L820.8 486.7 L818.3 488.4 L815.7 489.9 L813.3 491.7 L811.9 489.8 L810.3 488.0 L808.3 486.7 L805.8 486.2 L803.3 486.7 L803.0 489.0 L801.7 491.0 L801.7 493.3 L799.8 494.7 L798.4 496.7 L796.7 498.3 L797.3 501.2 L796.7 504.2 L793.8 505.1 L790.8 505.8 L792.4 508.2 L793.8 510.7 L795.0 513.3 L797.4 514.9 L800.2 515.7 L802.5 517.5 L805.3 516.7 L808.3 516.7 L809.0 519.7 L807.9 522.7 L807.9 525.7 L807.7 528.7 L808.3 531.7 L805.8 533.1 L803.4 534.7 L800.8 535.8 L799.9 537.7 L798.3 539.2"/>
<path d="M798.3 539.2 L795.8 538.5 L793.3 537.5 L790.6 536.5 L788.0 535.2 L785.0 535.0 L781.8 534.4 L779.3 532.3 L776.5 530.6 L773.3 530.0 L771.9 527.9 L770.6 525.8 L770.0 523.3 L769.1 521.3 L768.3 519.2 L766.3 520.8 L763.8 521.2 L760.8 521.0 L758.0 519.5 L755.0 519.4 L752.2 519.5 L749.3 519.7 L746.6 520.4 L743.8 520.6 L741.0 519.6 L738.1 519.1 L735.7 517.6 L733.1 516.2 L731.4 514.2 L728.9 513.0 L727.8 510.3 L725.6 508.8 L724.5 506.5 L722.5 505.0 L720.8 503.3"/>
<path d="M816.0 476.0 L818.4 477.1 L820.0 479.2 L822.2 478.5 L824.4 478.1 L826.7 478.3 L828.1 481.1 L828.3 484.2 L831.3 485.2 L834.4 485.4 L837.5 485.8 L839.0 487.7 L840.8 489.4 L841.7 491.7 L843.8 492.7 L846.2 492.3 L848.3 493.3 L847.7 496.3 L846.3 499.0 L845.0 501.7 L847.8 502.9 L850.0 505.0 L851.2 507.4 L852.2 510.0 L853.3 512.5 L856.2 513.2 L859.2 512.5 L860.7 510.3 L862.5 508.3 L864.9 509.7 L867.5 510.8 L868.4 512.8 L868.3 515.0 L866.8 516.5 L865.0 517.5 L862.7 517.4 L860.6 516.3 L858.3 516.7 L858.2 519.0 L857.7 521.2 L856.7 523.3 L854.7 525.5 L852.5 527.5 L853.9 529.4 L855.2 531.4 L856.7 533.3 L858.7 534.6 L860.0 536.7 L859.7 539.6 L860.0 542.5 L862.8 542.5 L865.5 543.2 L868.3 543.3 L870.6 544.0 L872.9 544.7 L875.0 545.8"/>
<path d="M875.0 545.8 L873.7 548.6 L873.3 551.7 L871.5 553.0 L870.9 555.3 L869.2 556.7 L869.0 559.3 L868.3 561.7 L865.4 562.5 L862.5 563.3 L862.1 565.7 L861.4 568.0 L860.0 570.0 L858.1 571.6 L856.8 573.9 L854.7 575.4 L853.3 577.5 L850.4 578.6 L848.3 580.8"/>
<path d="M875.0 545.8 L877.1 546.9 L879.3 548.0 L881.7 548.3 L883.7 549.8 L886.2 550.2 L888.7 550.4 L890.8 551.7 L893.4 551.2 L895.6 550.0 L897.5 548.3"/>
<path d="M775.8 351.7 L773.5 352.2 L772.0 354.0 L770.0 355.0 L767.3 356.1 L764.3 355.4 L761.7 356.7 L759.4 356.5 L757.2 357.0 L755.0 357.5 L752.2 358.2 L750.0 360.0 L747.2 359.0 L744.2 358.3 L743.1 361.2 L740.8 363.3 L739.4 365.4 L738.6 367.8 L737.2 370.0 L736.7 372.5 L733.9 372.6 L731.2 371.3 L728.3 371.7 L726.7 373.2 L725.8 375.2 L724.2 376.7"/>
<path d="M775.8 351.7 L775.5 348.9 L773.2 346.9 L772.4 344.3 L771.7 341.7 L773.4 339.9 L774.2 337.5 L773.4 335.5 L771.7 334.2 L774.0 332.9 L776.2 331.5 L778.3 330.0 L779.9 327.7 L781.2 325.3 L781.7 322.5 L784.3 322.5 L786.8 321.8 L789.2 320.8 L789.7 323.9 L790.5 326.9 L790.8 330.0 L793.7 331.1 L796.7 331.7 L799.3 330.9 L801.5 329.4 L803.9 328.1 L806.2 326.7 L808.3 325.0 L809.6 326.2 L810.8 327.5 L812.9 326.6 L814.8 325.4 L816.7 324.2 L819.2 324.4 L821.7 323.8 L824.2 324.2 L824.9 321.2 L826.2 318.5 L827.5 315.8 L830.1 315.8 L832.4 314.4 L835.0 314.2 L836.7 311.7 L839.6 311.3 L842.5 311.3 L843.3 313.5 L845.4 314.8 L846.7 316.7 L847.9 318.8 L849.3 320.7 L850.8 322.5 L850.8 325.1 L849.6 327.5 L849.2 330.0 L850.5 332.3 L851.7 334.6 L853.3 336.7 L856.4 336.9 L859.4 337.4 L862.5 337.5 L864.7 337.4 L866.7 338.3 L868.5 337.0 L869.1 334.7 L870.8 333.3"/>
<path d="M870.8 333.3 L869.5 330.8 L869.0 328.0 L869.6 325.5 L868.8 323.0 L869.5 320.5 L869.0 318.0 L871.5 316.9 L874.0 316.0 L876.5 317.1 L878.0 319.3 L880.0 321.0 L880.6 323.4 L882.1 325.5 L882.8 327.8 L884.0 330.0 L886.1 328.1 L887.5 325.5 L890.0 324.0 L892.8 322.9 L895.2 321.1 L898.0 320.2 L900.1 317.8 L903.0 317.0 L905.5 315.6 L908.2 314.7 L910.9 313.7 L913.4 312.2 L916.0 311.0 L918.6 310.1 L920.9 308.7 L923.4 307.7 L926.0 307.0 L928.6 307.7 L931.4 307.4 L934.0 308.0 L936.2 306.6 L937.6 304.2 L940.0 303.0 L942.7 302.1 L945.3 301.0 L948.0 300.0 L948.3 296.8 L950.0 294.0"/>
<path d="M870.8 333.3 L869.9 335.5 L869.1 337.7 L868.3 340.0 L866.1 340.6 L864.1 341.6 L862.5 343.3 L862.4 345.6 L863.2 347.8 L863.3 350.0 L866.0 351.1 L868.6 352.5 L871.4 353.3 L874.2 354.2 L875.4 356.6 L876.3 359.1 L876.7 361.7 L879.0 363.9"/>
<path d="M950.0 294.0 L952.4 295.6 L954.5 297.7 L957.4 298.5 L959.7 300.2 L962.0 302.0 L964.3 301.3 L966.6 300.8 L969.0 301.0 L969.4 304.2 L971.5 306.8 L972.0 310.0 L973.5 312.3 L975.4 314.3 L976.3 317.0 L978.9 318.4 L980.0 321.0 L979.5 323.2 L978.1 325.0 L977.0 327.0 L979.2 329.2 L980.3 332.1 L981.5 335.0 L984.0 337.0 L985.0 340.0 L984.4 343.0 L984.0 346.0"/>
<path d="M939.0 237.0 L936.9 237.9 L935.2 239.4 L933.0 240.0 L933.0 242.5 L931.9 244.7 L931.0 247.0 L928.8 246.4 L927.2 244.6 L925.0 244.0 L923.1 245.1 L921.0 245.0 L918.5 244.4 L916.1 243.5 L914.0 242.0 L913.3 244.8 L911.6 247.0 L913.9 248.9 L916.2 250.8 L919.0 252.0 L920.2 254.4 L921.0 257.0 L920.5 259.4 L920.0 261.8 L919.0 264.0 L919.7 267.1 L921.0 270.0 L922.4 272.5 L922.8 275.3 L923.6 278.0 L926.2 276.5 L929.4 276.5 L932.0 275.0 L934.6 273.9 L937.0 272.4 L938.1 274.5 L939.9 276.0 L941.0 278.0 L941.9 280.6 L941.7 283.5 L943.0 286.0 L944.2 288.1 L945.6 290.0 L943.7 291.4 L942.0 293.0 L944.7 294.2 L947.0 296.0 L948.8 295.5 L950.0 294.0"/>
<path d="M939.0 237.0 L941.6 237.1 L944.3 237.3 L946.8 237.0 L949.4 235.6 L952.0 236.0 L952.6 238.5 L952.6 241.1 L953.8 243.4 L954.0 246.0 L955.9 247.9 L957.9 249.7 L960.4 250.8 L962.0 253.0 L964.4 252.2 L967.0 252.6 L969.4 251.6 L972.0 252.0 L974.5 251.3 L977.0 252.0 L979.5 252.0 L982.0 251.6 L984.0 253.4 L986.5 254.7 L988.0 257.0 L991.0 257.2 L994.0 256.3 L997.0 257.2 L1000.0 257.0 L1002.6 257.4 L1004.8 258.7 L1007.0 260.0 L1007.2 262.8 L1008.9 265.2 L1009.0 268.0 L1011.1 269.5 L1013.9 269.4 L1016.0 271.0 L1016.7 274.0 L1019.1 276.1 L1020.0 279.0 L1023.0 279.6 L1026.0 280.0 L1028.3 277.9 L1030.4 275.7 L1032.0 273.0 L1033.1 275.5 L1034.6 277.7 L1036.0 280.0 L1037.5 282.6 L1038.4 285.5 L1039.2 288.5 L1041.0 291.0 L1044.0 290.7 L1047.0 291.0 L1047.7 288.8 L1049.0 287.0 L1051.8 286.3 L1054.7 285.5 L1057.3 284.0 L1060.0 283.0 L1062.7 283.3 L1065.3 282.5 L1068.0 283.0 L1068.7 286.1 L1070.0 289.0 L1073.1 289.8 L1075.9 291.3 L1079.0 291.9 L1082.1 292.6 L1085.0 294.0"/>
<path d="M908.3 95.0 L910.1 97.1 L911.4 99.6 L913.3 101.7 L911.4 103.3 L908.9 103.8 L907.0 105.3 L905.0 106.7 L907.4 107.3 L909.0 109.5 L911.3 110.3 L913.3 111.7 L915.7 110.6 L918.3 111.1 L920.7 110.0 L923.3 110.0 L925.6 112.1 L928.0 114.2 L930.0 116.7 L929.2 118.8 L929.1 121.2 L928.3 123.3 L930.6 125.2 L931.6 128.1 L933.7 130.1 L935.0 132.7 L937.9 132.8 L940.8 133.2 L943.8 132.5 L946.7 133.3 L949.6 133.3 L952.4 132.6 L955.3 132.6 L958.2 132.7 L961.0 131.7 L963.8 131.5 L966.7 131.7 L968.8 130.5 L971.1 129.6 L973.0 128.1 L975.0 126.7 L977.6 128.1 L979.6 130.1 L981.4 132.4 L983.5 134.4 L986.1 135.7 L988.0 137.9 L990.0 140.0 L988.9 142.9 L986.3 144.8 L984.8 147.4 L983.3 150.0 L981.1 151.6 L980.3 154.4 L978.4 156.3 L976.7 158.3 L977.1 161.4 L975.9 164.3 L976.1 167.3 L975.0 170.3 L975.0 173.3 L972.8 175.4 L971.0 177.8 L969.0 180.0 L967.5 182.7 L966.0 185.5 L964.0 188.0 L964.1 190.8 L963.3 193.5 L963.6 196.3 L963.0 199.0 L962.1 196.1 L959.9 193.9 L959.0 191.0 L956.8 193.0 L953.8 193.6 L951.4 195.3 L948.7 196.5 L946.6 198.6 L944.0 200.0 L941.7 202.2 L938.7 203.2 L936.0 204.7 L934.1 207.4 L931.5 209.1 L928.2 209.7 L926.0 212.0 L925.4 214.0 L926.0 216.0 L928.2 217.0 L929.7 219.0 L932.0 220.0 L932.8 222.6 L934.8 224.6 L936.0 227.0 L938.2 225.2 L940.0 223.0 L943.0 222.2 L946.0 222.4 L947.0 224.3 L947.0 226.4 L943.9 226.8 L940.9 227.8 L938.0 229.0 L936.8 231.4 L936.0 234.0 L937.7 235.3 L939.0 237.0"/>
<path d="M96.2 448.8 L94.7 446.2 L94.7 443.1 L93.6 440.4 L91.9 437.9 L91.2 435.0 L89.4 433.1 L87.4 431.3 L85.8 429.2 L83.8 427.5 L81.0 426.3 L77.7 426.4 L75.0 425.0 L72.4 425.4 L70.1 423.9 L67.5 424.2 L65.0 423.8 L65.0 421.2 L67.9 421.0 L70.5 419.3 L73.4 419.3 L76.2 418.8 L75.3 415.7 L73.4 413.1 L72.5 410.0 L72.7 407.1 L72.1 404.4 L70.3 401.9 L69.8 399.1 L70.0 396.2 L67.5 394.9 L65.3 393.2 L62.5 392.5 L59.6 393.1 L56.7 393.8 L53.8 393.8 L52.4 390.9 L50.6 388.2 L50.0 385.0 L48.8 382.6 L48.2 380.0 L47.5 377.5 L49.6 375.8 L51.4 373.9 L53.8 372.5 L53.8 369.5 L54.2 366.6 L55.0 363.8 L57.5 362.4 L59.9 361.0 L62.2 359.4 L65.2 359.2 L67.5 357.6 L70.0 356.2 L72.8 355.5 L75.3 353.8 L78.5 353.9 L81.2 352.8 L83.8 351.2 L85.5 353.0 L86.5 355.3 L87.5 357.5 L90.3 357.3 L93.1 356.8 L95.9 356.6 L98.5 355.4 L101.2 355.0 L102.9 353.0 L104.0 350.6 L104.7 348.1 L106.4 346.1 L107.5 343.8 L110.5 344.3 L113.5 344.3 L116.5 343.8 L119.5 343.9 L122.5 343.8 L123.9 341.4 L126.0 339.7 L128.4 338.4 L130.0 336.2 L132.9 335.1 L135.7 333.7 L138.8 333.2 L141.8 332.4 L144.7 331.3 L147.5 330.0 L150.1 328.6 L152.8 327.4 L155.5 326.3 L158.4 325.4 L160.9 323.8 L163.5 322.4 L166.2 321.2 L166.5 318.4 L166.2 315.5 L166.5 312.7 L167.5 310.0 L169.7 308.2 L172.0 306.5 L173.6 304.1 L175.4 301.9 L177.5 300.0 L176.1 297.3 L175.7 294.3 L175.5 291.2 L174.3 288.5 L173.1 285.7 L172.7 282.7 L171.2 280.0 L170.5 277.5 L170.6 275.0 L171.0 272.4 L170.0 270.0 L167.9 268.5 L165.6 267.3 L163.3 266.2 L161.2 264.5 L163.5 263.4 L165.9 262.9 L167.5 260.5 L170.0 260.0 L173.2 259.7 L176.4 259.1 L179.5 258.5 L182.6 257.6 L185.7 257.0 L188.8 255.9 L191.9 255.3 L195.0 254.5 L197.5 255.4 L200.2 255.9 L202.5 257.5 L205.0 258.1 L207.5 257.6 L210.0 257.5 L209.5 255.0 L210.0 252.5 L208.2 251.2 L206.3 250.0 L204.5 248.8 L205.4 245.9 L206.4 243.0 L207.7 240.3 L208.8 237.5 L210.2 235.0 L211.4 232.4 L212.4 229.8 L213.1 226.9 L214.6 224.5 L215.8 221.9 L217.6 219.6 L218.8 217.0 L221.3 218.4 L224.0 219.3 L226.7 220.2 L229.4 221.1 L232.4 221.2 L235.0 222.5 L238.0 222.8 L241.0 222.3 L243.9 221.1 L246.9 220.8 L250.0 221.2 L252.3 222.2 L253.8 224.2 L256.2 223.2 L258.1 221.2 L260.2 219.7 L262.8 219.0 L265.0 217.5 L264.6 214.7 L264.0 211.8 L264.0 209.0 L264.3 206.1 L263.6 203.2 L263.6 200.4 L263.8 197.5 L265.9 195.5 L267.5 193.0 L270.2 192.3 L272.9 191.5 L275.7 191.2 L278.3 189.9 L281.2 190.0 L282.3 187.4 L283.6 184.9 L284.6 182.3 L286.2 180.0 L288.1 178.5 L290.7 178.5 L292.5 177.0 L295.5 177.0 L298.5 176.6 L301.5 177.2 L304.5 177.0 L304.6 180.1 L306.4 182.9 L306.2 186.0 L308.9 187.1 L311.1 189.0 L312.8 191.4 L315.6 192.4 L317.5 194.5 L319.5 196.4 L321.7 198.1 L324.0 199.6 L326.2 201.2 L329.4 201.1 L332.4 202.6 L335.6 202.6 L338.8 202.5 L341.6 203.9 L344.6 204.9 L347.1 206.8 L350.0 208.0 L351.4 210.6 L352.4 213.4 L354.0 215.9 L355.0 218.8 L356.6 220.8 L359.0 222.0 L360.5 224.2 L362.0 226.2 L360.6 229.0 L360.1 232.0 L360.0 235.0 L360.7 237.3 L360.3 239.8 L361.2 242.0 L359.8 244.4 L357.4 246.1 L356.2 248.8 L355.6 251.8 L355.8 255.0 L357.9 256.4 L360.0 258.0 L362.9 258.1 L365.8 258.3 L368.3 260.1 L371.2 260.0 L374.1 259.6 L376.7 261.0 L379.4 261.4 L382.2 261.1 L385.0 261.2 L387.9 260.9 L390.8 262.1 L393.7 262.3 L396.7 262.1 L399.6 261.9 L402.5 262.0 L405.1 262.8 L407.6 263.8 L410.2 264.6 L412.4 266.2 L415.0 267.0 L417.8 268.5 L420.7 269.8 L423.5 271.3 L425.9 273.6 L428.8 275.0 L431.6 275.2 L434.4 276.0 L437.2 276.2 L440.0 277.0 L440.1 279.9 L441.2 282.5 L442.7 284.8 L445.0 286.2 L446.9 288.8 L447.9 291.7 L449.0 294.6 L450.0 297.5 L451.3 300.0 L453.4 301.8 L455.8 303.3 L457.5 305.5 L458.0 308.2 L460.9 307.7 L463.8 308.2 L466.7 308.3 L469.6 308.3 L472.5 307.5 L475.4 307.7 L478.1 308.9 L481.0 309.1 L483.9 309.2 L486.7 310.4 L489.7 309.7 L492.5 310.5 L495.3 311.1 L498.3 310.3 L501.1 310.6 L503.9 312.0 L506.8 311.1 L509.6 312.2 L512.5 312.0 L515.4 311.7 L518.4 311.7 L521.2 310.6 L524.1 310.1 L527.0 309.6 L530.0 309.5 L532.8 310.3 L535.7 310.2 L538.5 310.9 L541.4 311.1 L544.3 310.2 L547.1 311.1 L550.0 311.2 L552.7 311.5 L555.2 312.3 L557.5 313.8 L559.3 315.3 L559.5 317.9 L561.2 319.5 L563.7 320.2 L566.2 320.5 L568.8 320.0 L571.2 320.5 L573.9 321.8 L576.6 323.2 L579.6 323.8 L582.2 325.2 L585.0 326.2 L588.1 326.0 L591.3 325.9 L594.4 326.3 L597.5 327.3 L600.6 327.0 L603.8 327.0 L603.8 328.7 L605.0 330.0 L608.1 330.6 L611.2 331.2 L613.3 329.7 L615.8 329.1 L618.1 327.9 L620.0 326.2 L622.6 324.3 L625.9 324.0 L628.5 321.9 L631.4 320.7 L634.8 320.5 L637.5 318.8 L640.0 317.5 L642.8 317.2 L645.7 317.6 L648.2 316.2 L650.8 315.2 L653.5 314.6 L656.2 314.5 L659.3 314.2 L662.3 315.0 L665.4 314.1 L668.4 315.4 L671.4 314.7 L674.4 315.6 L677.5 315.0 L680.5 315.4 L683.3 314.3 L686.2 314.0 L689.2 314.1 L692.0 313.4 L695.0 313.8 L697.6 312.9 L699.7 311.0 L702.2 309.9 L705.3 310.3 L707.4 308.3 L710.0 307.5 L712.1 305.6 L713.9 303.4 L715.8 301.3 L717.5 299.0 L720.0 297.5 L722.8 296.8 L725.3 295.6 L727.8 294.4 L729.7 292.0 L732.5 291.2 L734.1 289.6 L736.3 288.9 L738.0 287.5 L737.8 285.3 L736.2 283.8 L734.4 282.4 L732.5 281.2 L731.1 278.6 L729.4 276.1 L727.5 273.8 L728.9 271.0 L730.9 268.8 L732.5 266.2 L734.1 264.1 L735.9 262.2 L738.0 260.5 L741.1 260.8 L743.9 262.0 L746.5 263.9 L749.6 264.0 L752.5 265.0 L755.6 265.7 L758.7 266.2 L761.8 267.2 L765.0 267.0 L767.4 265.9 L769.9 264.9 L772.4 264.1 L774.9 263.1 L777.5 262.5 L780.0 260.9 L782.3 258.9 L783.9 256.3 L786.2 254.5 L788.9 253.8 L791.7 253.7 L794.4 253.4 L797.1 253.0 L799.7 252.0 L802.5 252.0 L804.4 250.0 L806.8 248.9 L808.9 247.3 L811.5 246.5 L813.8 245.0 L815.2 242.1 L817.2 239.6 L819.9 237.6 L821.7 235.0 L824.6 234.0 L827.8 234.1 L830.7 233.0 L833.8 232.9 L836.7 231.7 L838.0 230.1 L840.0 229.3 L842.9 229.1 L845.7 229.4 L848.5 228.1 L851.5 229.2 L854.3 227.9 L857.2 228.6 L860.0 228.0 L862.7 228.9 L865.5 228.9 L868.4 228.4 L871.2 228.3 L873.9 229.1 L876.7 229.3 L878.8 227.5 L880.0 225.0 L878.6 222.3 L878.3 219.2 L876.7 216.7 L874.2 215.0 L872.9 212.1 L869.9 210.9 L868.3 208.3 L865.7 207.1 L863.6 205.0 L861.0 203.7 L858.3 202.7 L855.5 201.8 L852.5 201.7 L849.6 201.6 L846.7 201.7 L844.2 202.6 L842.2 204.4 L839.7 205.2 L837.6 206.6 L835.0 207.3 L832.4 205.7 L829.6 204.4 L826.7 203.3 L823.7 204.0 L820.8 204.6 L817.6 203.6 L814.6 204.2 L811.7 205.0 L810.0 205.8 L808.3 206.7 L806.7 204.6 L805.4 202.2 L803.3 200.4 L801.7 198.3 L803.3 196.5 L804.9 194.8 L806.7 193.3 L806.9 190.5 L807.1 187.6 L808.3 185.0 L810.2 182.5 L811.5 179.7 L813.4 177.2 L814.4 174.1 L816.5 171.8 L817.9 169.0 L819.6 166.3 L821.7 164.0 L824.6 164.4 L827.3 166.0 L830.3 166.1 L833.2 166.9 L835.9 167.9 L838.9 168.2 L841.7 169.3 L842.9 167.4 L845.0 166.7 L847.7 165.7 L850.4 164.6 L853.2 163.8 L855.8 162.4 L858.7 161.7 L861.4 160.7 L863.8 159.0 L866.7 158.3 L867.1 155.8 L867.5 153.3 L867.5 150.7 L868.3 148.3 L869.9 145.6 L871.7 143.1 L873.8 140.8 L875.5 138.2 L876.4 135.0 L878.5 132.7 L880.0 130.0 L882.1 127.8 L884.6 126.1 L887.5 125.0 L890.3 123.8 L892.2 121.2 L895.0 120.0 L895.8 117.6 L896.4 115.1 L896.0 112.5 L896.7 110.0 L894.0 108.9 L891.2 107.9 L888.2 107.8 L885.6 106.5 L882.7 106.0 L883.4 103.9 L883.3 101.7 L886.1 100.1 L888.9 98.8 L891.7 97.2 L894.4 95.6 L896.7 93.3 L899.5 93.0 L902.2 92.0 L904.9 91.6 L907.7 91.1 L910.5 91.2 L913.3 90.7 L916.0 90.6 L918.5 89.1 L921.4 89.5 L924.1 89.1 L926.7 88.3 L929.5 87.8 L932.4 87.9 L935.2 87.1 L938.2 87.7 L940.9 86.5 L943.9 87.6 L946.7 86.7 L949.2 88.1 L952.0 88.9 L954.8 89.4 L957.1 91.3 L960.0 91.7 L962.5 93.0 L965.5 92.5 L967.9 94.1 L970.5 94.8 L973.3 95.0 L975.9 96.2 L978.6 97.3 L981.4 97.9 L983.8 99.6 L986.7 100.0 L987.8 102.9 L990.1 104.9 L991.3 107.8 L993.3 110.0 L995.1 112.4 L997.1 114.7 L998.5 117.4 L1000.0 120.0 L1001.6 122.3 L1001.7 125.3 L1002.7 127.8 L1005.0 129.8 L1005.4 132.6 L1006.7 135.0 L1007.9 137.4 L1009.4 139.8 L1010.3 142.4 L1011.4 144.8 L1011.9 147.7 L1013.3 150.0 L1015.0 152.4 L1015.7 155.2 L1016.4 157.9 L1018.0 160.4 L1018.3 163.3 L1019.8 165.1 L1021.5 166.7 L1023.3 168.3 L1025.9 169.0 L1028.7 168.3 L1031.4 168.6 L1034.0 169.2 L1036.7 169.3 L1039.5 169.6 L1042.2 170.8 L1045.1 170.9 L1047.7 172.2 L1050.4 173.1 L1053.3 173.3 L1055.5 175.4 L1057.9 177.2 L1060.8 178.4 L1063.3 180.0 L1065.8 181.2 L1068.1 183.0 L1070.6 184.1 L1073.3 185.0 L1073.5 187.7 L1074.2 190.3 L1074.6 192.9 L1075.2 195.6 L1075.0 198.3 L1075.7 201.0 L1077.7 203.2 L1078.3 206.0 L1081.2 206.7 L1084.1 206.7 L1087.0 207.7 L1090.0 207.3 L1092.8 207.5 L1095.6 207.6 L1098.3 206.1 L1101.1 206.4 L1103.9 206.3 L1106.7 206.0 L1108.1 203.7 L1110.0 201.7 L1112.8 200.9 L1115.5 199.8 L1118.4 199.2 L1120.9 197.6 L1123.9 197.5 L1126.7 196.7 L1129.7 195.9 L1132.6 195.1 L1135.7 194.5 L1138.8 194.4 L1141.7 193.3 L1144.5 193.4 L1147.2 193.0 L1150.0 193.1 L1152.7 192.7 L1150.2 194.7 L1147.8 196.8 L1145.0 198.3 L1146.3 200.4 L1146.5 202.7 L1146.7 205.0 L1144.5 207.0 L1142.1 208.7 L1140.1 210.9 L1138.3 213.3 L1137.6 216.0 L1136.3 218.5 L1136.4 221.4 L1135.2 223.9 L1135.0 226.7 L1133.9 229.3 L1132.2 231.5 L1130.6 233.9 L1130.0 236.7 L1129.1 239.3 L1128.2 241.9 L1126.5 244.1 L1125.5 246.7 L1124.6 249.3 L1123.3 251.7 L1122.3 254.6 L1120.1 256.8 L1118.4 259.3 L1116.7 261.7 L1113.7 261.0 L1111.0 259.5 L1108.0 259.0 L1105.0 258.3 L1102.6 257.6 L1100.1 256.9 L1097.6 256.7 L1095.0 256.7 L1092.9 258.4 L1090.6 259.7 L1088.6 261.5 L1086.7 263.3 L1084.4 264.2 L1082.1 265.4 L1080.0 266.7 L1081.0 269.2 L1081.5 271.8 L1082.3 274.3 L1083.3 276.7 L1082.9 279.8 L1083.4 282.8 L1083.6 285.9 L1084.0 288.9 L1084.2 292.0 L1085.0 295.0 L1084.0 297.5 L1083.6 300.1 L1082.9 302.6 L1081.7 305.0 L1078.7 306.0 L1075.6 307.0 L1072.9 308.7 L1070.0 310.0 L1072.1 312.2 L1073.3 315.0 L1071.6 313.0 L1069.3 311.7 L1067.3 310.1 L1064.9 308.9 L1063.3 306.7 L1061.7 305.0 L1060.0 303.3 L1058.4 306.1 L1057.6 309.2 L1056.4 312.2 L1055.0 315.0 L1052.5 316.5 L1050.7 318.9 L1048.0 320.0 L1045.3 321.1 L1043.3 323.3 L1040.6 323.2 L1038.0 323.7 L1035.3 323.4 L1032.7 323.7 L1030.0 324.0 L1029.3 326.2 L1028.2 328.2 L1026.7 330.0 L1027.9 332.1 L1030.0 333.3 L1028.6 334.9 L1026.7 336.0 L1023.8 336.2 L1021.2 334.6 L1018.4 334.6 L1015.5 334.4 L1012.8 333.7 L1010.0 333.3 L1008.6 330.6 L1006.7 328.3 L1004.7 329.9 L1002.1 330.4 L1000.0 331.7 L998.6 334.3 L997.4 337.1 L996.7 340.0 L994.4 341.8 L991.6 342.9 L989.4 344.8 L986.7 346.0 L984.2 347.3 L981.9 349.3 L979.0 349.9 L976.7 351.7 L973.9 352.9 L971.8 355.2 L969.4 357.0 L966.7 358.3 L964.1 359.9 L962.3 362.3 L960.0 364.2 L958.3 366.7 L955.6 367.8 L952.7 367.0 L950.0 368.0 L947.3 368.4 L944.7 369.4 L942.0 369.7 L939.7 370.6 L937.2 370.9 L935.0 372.1 L932.8 372.7 L931.3 374.5 L929.1 375.0 L927.1 376.0 L925.5 377.8 L923.3 378.5 L920.5 380.0 L918.6 382.6 L916.3 384.1 L914.0 385.5 L911.4 386.1 L909.3 387.8 L906.3 388.6 L903.5 390.1 L901.4 389.0 L902.3 386.6 L904.7 386.5 L907.0 386.1 L908.9 385.2 L911.0 384.9 L911.2 382.6 L910.9 380.2 L911.6 377.9 L909.4 378.2 L907.4 377.2 L905.2 377.3 L904.2 375.6 L903.5 373.8 L905.4 373.3 L907.0 372.1 L907.6 369.2 L909.3 367.2 L911.6 365.7 L913.6 364.4 L915.4 362.8 L916.9 361.0 L918.6 358.9 L920.3 356.7 L922.7 355.2 L920.7 353.5 L918.8 351.7 L916.9 349.9 L915.0 348.5 L914.0 346.4 L911.1 346.9 L908.1 347.1 L905.2 346.3 L902.3 346.4 L899.6 347.4 L897.6 349.3 L896.8 351.3 L895.3 352.8 L894.4 355.0 L892.4 356.3 L891.2 358.5 L890.6 361.0 L888.2 361.1 L886.0 362.2 L883.5 362.1 L881.3 363.2 L879.0 363.9 L876.4 365.3 L873.7 366.2 L871.9 367.6 L870.8 369.7 L870.1 371.5 L868.5 372.7 L868.5 374.5 L869.1 376.2 L867.4 378.4 L865.0 379.7 L863.3 380.7 L861.5 381.4 L859.2 382.0 L856.8 382.6 L855.8 384.5 L854.5 386.1 L852.4 385.0 L851.0 383.1 L849.0 382.0 L847.5 380.2 L844.6 380.8 L843.8 382.5 L843.6 384.5 L844.4 386.2 L842.5 388.2 L840.6 390.0 L839.9 391.5 L839.4 393.1 L841.7 394.8 L843.8 396.9 L845.2 399.5 L848.0 400.9 L851.0 401.8 L853.4 402.5 L855.7 403.6 L858.0 403.5 L860.4 403.8 L862.7 403.0 L863.2 405.4 L865.0 407.1 L867.4 407.7 L869.1 409.4 L867.9 412.3 L865.4 413.0 L863.2 414.6 L862.7 416.4 L863.2 418.1 L864.9 419.4 L866.2 421.0 L868.3 422.0 L870.2 423.4 L873.4 423.5 L876.6 423.4 L878.3 421.7 L879.0 419.3 L881.2 417.4 L883.6 415.8 L885.8 414.1 L887.1 411.7 L890.2 410.9 L893.0 409.4 L893.8 407.9 L895.3 407.1 L896.0 408.9 L897.6 410.0 L900.3 410.8 L902.3 412.9 L904.7 412.7 L907.0 413.5 L909.2 415.2 L911.6 416.4 L913.8 415.2 L916.2 415.0 L918.6 414.6 L921.2 415.3 L923.3 417.0 L925.6 417.1 L927.9 417.9 L930.3 417.6 L929.4 419.8 L929.7 422.2 L929.1 424.3 L927.4 425.7 L926.7 427.8 L925.0 429.2 L923.0 428.7 L921.0 429.2 L918.9 428.6 L917.5 426.9 L915.7 428.2 L913.8 429.3 L911.6 429.8 L909.5 431.1 L907.2 432.0 L904.6 432.1 L901.6 432.8 L898.8 433.9 L897.3 435.8 L896.5 438.0 L894.8 440.5 L893.6 443.2 L890.9 443.0 L888.3 443.8 L887.1 446.7 L884.6 448.6 L882.5 450.8 L880.9 452.7 L879.0 454.3 L876.9 455.3 L874.9 456.6 L873.1 459.0 L872.6 461.9 L870.7 463.5 L869.1 465.4 L868.6 467.6 L867.3 469.4 L869.3 470.7 L870.2 472.9 L872.0 474.6 L874.4 475.4 L876.6 476.4 L879.2 477.4 L881.6 478.9 L884.2 480.0 L886.1 481.7 L888.0 483.4 L890.0 485.0 L891.6 487.3 L892.2 489.9 L893.1 492.5 L894.4 494.8 L895.0 497.5 L895.5 500.7 L897.1 503.5 L897.8 506.6 L898.7 509.6 L900.0 512.5 L901.6 514.6 L903.5 516.5 L905.4 518.4 L907.5 520.0 L909.0 521.8 L909.2 524.4 L911.0 526.0 L914.0 527.0 L915.7 528.4 L916.5 530.5 L917.3 533.3 L916.8 536.3 L917.5 539.2 L914.9 539.0 L912.5 539.8 L911.0 538.3 L909.0 537.8 L907.0 538.0 L909.4 539.2 L911.0 541.5 L912.9 542.3 L914.0 544.0 L915.3 546.4 L917.2 548.2 L917.4 550.4 L917.5 552.5 L916.0 552.5 L913.5 552.7 L911.0 552.5 L908.6 553.1 L907.0 555.0 L905.0 555.5 L902.7 557.0 L900.0 557.2 L902.5 558.9 L905.0 560.5 L906.7 562.3 L908.7 563.8 L910.0 566.0 L911.6 567.6 L913.0 569.5 L915.0 570.0 L915.5 572.6 L916.1 575.2 L917.5 577.5 L918.6 579.9 L918.3 582.5 L918.8 585.0 L916.9 586.4 L914.4 586.2 L912.5 587.5 L913.7 589.8 L913.8 592.5 L913.6 595.2 L912.2 597.6 L911.2 600.0 L909.3 602.3 L908.1 605.2 L906.2 607.5 L904.5 609.6 L901.8 610.5 L900.0 612.5 L898.0 613.8 L896.3 615.5 L895.0 617.5 L893.6 620.2 L891.8 622.6 L890.0 625.0 L888.7 627.7 L886.6 630.0 L885.0 632.5 L883.5 634.3 L881.8 636.0 L880.0 637.5 L880.9 640.2 L882.5 642.5 L880.6 644.7 L879.9 647.4 L879.3 650.3 L877.5 652.5 L877.7 655.0 L878.4 657.5 L878.8 660.0 L876.2 661.1 L874.4 663.1 L872.5 665.0 L869.7 666.2 L867.3 668.1 L865.0 670.0 L863.3 671.6 L861.2 672.9 L860.0 675.0 L857.2 676.3 L855.2 678.6 L852.5 680.0 L851.2 682.0 L849.3 683.5 L847.5 685.0 L845.8 687.1 L844.6 689.5 L842.5 691.2 L840.8 693.3 L838.7 694.9 L837.4 697.4 L835.0 698.8 L832.3 699.6 L829.9 701.0 L827.5 702.5 L826.1 705.2 L824.4 707.7 L822.5 710.0 L820.1 711.4 L817.6 712.7 L815.0 713.8 L812.4 714.2 L810.0 715.4 L807.5 716.2 L805.0 716.2 L802.5 716.8 L800.0 716.2 L797.3 716.3 L795.0 717.5 L792.5 717.8 L790.0 717.8 L787.5 717.5 L785.3 719.3 L782.5 720.0 L780.0 722.1 L778.8 725.0 L776.3 726.3 L773.8 727.5 L772.4 724.6 L770.0 722.5 L768.3 723.3 L767.5 725.0 L765.6 727.2 L765.0 730.0 L762.7 730.4 L760.6 731.1 L758.8 732.5 L756.3 733.7 L754.3 735.5 L752.5 737.5 L749.4 738.0 L746.2 737.5 L743.1 738.1 L740.0 738.8 L737.4 739.9 L734.7 740.6 L732.5 742.5 L729.9 742.5 L727.4 743.0 L725.0 743.8 L722.4 744.2 L720.1 745.6 L717.5 746.2 L715.1 746.9 L713.2 748.6 L711.2 750.0 L708.8 751.4 L706.2 752.5 L707.5 755.0 L708.8 757.5 L710.1 759.9 L712.5 761.2 L711.8 763.7 L711.2 766.2 L708.9 767.3 L706.4 767.9 L703.8 768.0 L702.1 766.3 L700.0 765.0 L699.3 762.1 L698.9 759.0 L697.5 756.2 L696.9 753.4 L697.0 750.4 L697.0 747.5 L698.2 745.8 L698.8 743.8 L696.0 744.6 L693.2 744.7 L690.3 744.2 L687.5 744.5 L686.0 743.1 L685.0 741.2 L682.4 741.5 L680.0 741.0 L677.5 740.1 L675.0 740.0 L672.5 740.4 L670.1 741.5 L667.5 741.2 L664.8 741.0 L662.7 739.1 L660.0 738.8 L657.6 737.3 L654.8 736.7 L652.5 735.0 L650.6 733.3 L647.8 733.1 L645.8 731.4 L643.8 730.0 L643.4 727.3 L642.4 724.9 L641.2 722.5 L642.2 719.9 L644.3 717.8 L645.0 715.0 L642.1 714.2 L639.3 713.1 L636.2 713.0 L633.8 712.2 L631.2 712.8 L628.8 712.5 L626.8 710.6 L624.6 709.1 L622.5 707.5 L620.3 705.7 L617.5 705.0 L614.8 706.3 L612.3 708.1 L610.0 710.0 L607.2 711.3 L604.6 712.7 L602.5 715.0 L600.0 715.6 L597.5 715.5 L596.0 718.0 L593.8 720.0 L591.9 718.4 L589.8 717.2 L587.5 716.2 L585.0 717.9 L582.5 719.6 L580.0 721.2 L577.4 720.1 L575.3 718.2 L572.5 717.5 L569.4 717.1 L566.2 717.5 L564.3 719.9 L562.5 722.5 L560.0 723.2 L557.5 722.0 L555.0 722.6 L552.5 722.5 L552.1 724.8 L551.1 726.8 L550.0 728.8 L551.0 731.1 L553.1 732.8 L554.2 735.0 L555.0 737.5 L555.3 740.0 L554.4 742.5 L554.6 745.0 L555.0 747.5 L552.0 747.2 L549.2 748.3 L546.2 748.8 L545.7 745.6 L545.1 742.5 L544.4 739.4 L543.8 736.2 L541.2 737.4 L538.5 738.3 L536.2 740.0 L533.9 740.2 L532.1 741.8 L530.0 742.5 L527.6 741.1 L525.0 740.0 L523.5 737.2 L522.2 734.3 L521.2 731.2 L518.1 730.6 L515.0 729.9 L511.9 729.3 L508.8 728.8 L510.3 726.5 L509.9 723.6 L511.2 721.2 L512.3 718.4 L513.6 715.6 L513.8 712.5 L512.1 710.4 L510.0 708.8 L507.5 707.8 L504.9 707.3 L502.5 706.2 L501.9 703.4 L502.3 700.3 L501.2 697.5 L501.0 694.8 L499.8 692.4 L498.8 690.0 L495.9 689.4 L493.1 689.4 L490.3 689.5 L487.5 690.0 L485.1 691.4 L482.5 692.5 L480.0 693.8 L480.3 690.8 L479.5 687.9 L479.5 685.0 L479.6 682.5 L479.0 680.0 L478.8 677.5 L479.5 674.9 L480.6 672.5 L481.0 669.8 L482.5 667.5 L484.4 665.3 L486.6 663.2 L488.8 661.2 L490.1 658.9 L492.2 657.2 L494.1 655.4 L496.2 653.8 L497.6 651.4 L498.0 648.8 L498.8 646.2 L499.0 643.3 L500.6 640.6 L500.5 637.5 L500.1 634.6 L500.4 631.7 L500.6 628.7 L500.5 625.8 L500.0 622.9 L500.0 620.0 L498.1 618.1 L495.6 616.9 L493.6 615.0 L491.2 613.8 L490.0 611.6 L489.4 609.0 L487.8 607.0 L486.2 605.0 L483.8 603.8 L481.7 602.1 L480.0 600.0 L477.8 602.1 L477.0 605.2 L475.0 607.5 L473.9 610.0 L472.0 611.9 L470.0 613.8 L467.7 612.5 L465.8 610.7 L463.2 610.1 L461.2 608.5 L458.8 607.5 L456.1 606.1 L452.9 606.2 L450.4 604.5 L447.5 603.8 L444.6 604.7 L442.5 606.8 L440.0 608.4 L437.5 610.0 L435.1 611.5 L432.2 611.9 L429.7 613.1 L427.8 615.5 L425.0 616.2 L422.8 617.7 L420.7 619.5 L418.3 620.7 L416.2 622.5 L415.1 625.3 L413.2 627.7 L411.2 630.0 L408.5 630.8 L405.6 631.0 L402.7 631.1 L400.0 632.0 L396.9 631.5 L393.9 631.6 L390.9 631.7 L387.8 632.6 L384.8 632.2 L381.7 632.0 L381.5 629.4 L380.5 626.9 L380.4 624.3 L380.0 621.7 L377.5 620.0 L374.2 620.0 L371.7 618.3 L371.3 615.9 L369.4 614.0 L369.0 611.6 L368.3 609.3 L365.9 609.5 L364.1 611.3 L361.7 611.7 L358.8 610.4 L355.8 609.3 L353.2 607.4 L350.0 606.7 L347.2 605.5 L344.1 606.2 L341.2 605.4 L338.3 605.0 L335.7 606.5 L333.9 608.7 L331.7 610.7 L331.1 613.7 L329.3 616.3 L328.9 619.4 L327.7 622.1 L326.7 625.0 L324.3 624.5 L322.7 622.7 L323.2 619.5 L322.4 616.3 L322.6 613.1 L321.7 610.0 L319.4 608.5 L316.7 608.3 L314.3 609.5 L311.7 609.9 L309.2 610.9 L306.7 611.7 L304.0 611.3 L301.3 611.2 L298.7 612.1 L296.0 612.0 L293.3 611.7 L290.5 610.3 L287.5 609.6 L284.4 608.9 L281.7 607.3 L279.1 608.9 L276.1 609.5 L273.3 610.7 L271.8 608.8 L270.5 606.5 L268.4 605.1 L266.7 603.3 L264.2 603.0 L261.7 603.5 L259.2 603.0 L256.7 602.7 L255.5 599.8 L255.0 596.7 L252.6 595.3 L249.9 594.8 L247.3 593.7 L244.9 592.4 L242.5 591.2 L240.0 590.0 L238.7 587.7 L237.9 585.1 L236.7 582.7 L234.0 583.9 L230.9 583.7 L228.3 585.0 L226.9 582.9 L225.0 581.1 L222.8 579.7 L221.7 577.3 L218.8 576.0 L216.2 574.0 L213.3 572.7 L211.1 570.7 L209.0 568.6 L206.7 566.6 L203.8 565.4 L201.7 563.3 L198.8 562.5 L195.8 561.9 L192.8 561.4 L190.0 560.0 L188.8 562.7 L187.0 565.1 L185.0 567.3 L182.8 565.4 L181.7 562.7 L179.2 561.5 L176.8 560.2 L174.2 559.3 L171.8 558.0 L169.0 557.5 L166.7 556.0 L164.1 554.8 L162.1 552.8 L160.0 550.9 L157.3 549.9 L155.0 548.3 L151.8 548.3 L148.8 547.5 L146.0 546.0 L144.3 543.8 L143.1 541.3 L141.0 539.4 L140.0 536.7 L139.2 534.3 L139.4 531.7 L139.4 529.1 L138.3 526.7 L137.2 524.3 L136.8 521.7 L135.9 519.2 L135.0 516.7 L136.9 514.9 L139.4 514.2 L141.7 513.3 L142.8 515.4 L143.1 517.7 L143.3 520.0 L145.7 519.3 L147.9 518.0 L150.0 516.7 L149.0 514.1 L148.7 511.4 L149.3 508.6 L148.0 506.1 L148.3 503.3 L145.9 501.3 L143.7 499.1 L141.7 496.7 L140.6 494.1 L140.2 491.5 L139.9 488.8 L140.0 486.0 L141.9 483.7 L144.5 482.0 L146.0 479.3 L143.5 478.2 L140.8 477.9 L138.5 476.5 L135.7 476.2 L133.3 475.0 L132.5 472.2 L131.4 469.5 L131.4 466.5 L129.8 463.9 L129.6 461.0 L128.3 458.3 L125.7 457.2 L123.1 456.1 L120.4 455.6 L117.8 454.3 L115.0 454.0 L112.3 453.2 L109.8 451.9 L107.1 451.0 L104.4 450.2 L101.7 449.3 L99.0 448.9Z"/>
</g>
<path d="M908.8 664.5 L911.4 665.8 L913.8 667.5 L915.6 669.4 L917.5 671.2 L916.3 673.8 L915.0 676.2 L914.5 679.2 L914.1 682.1 L913.8 685.0 L913.3 687.6 L912.6 690.1 L911.2 692.4 L910.9 695.1 L910.0 697.5 L909.3 700.1 L907.8 702.4 L907.2 705.0 L906.2 707.5 L905.0 709.6 L904.3 712.0 L903.1 714.2 L902.5 716.6 L901.2 718.8 L900.3 720.8 L899.3 722.8 L898.8 725.0 L898.3 727.9 L897.7 730.8 L897.5 733.8 L895.0 734.2 L894.7 731.6 L893.8 729.0 L893.8 726.2 L892.2 724.8 L890.5 723.7 L888.8 722.5 L887.4 720.5 L885.9 718.5 L885.0 716.2 L884.7 714.0 L883.7 711.9 L883.3 709.6 L882.5 707.5 L883.2 704.6 L883.5 701.7 L883.8 698.8 L885.0 696.7 L885.5 694.3 L886.8 692.3 L887.5 690.0 L889.0 687.5 L890.9 685.2 L892.4 682.7 L893.8 680.0 L895.1 677.6 L896.6 675.5 L898.3 673.3 L900.0 671.2 L901.9 669.8 L903.3 667.9 L905.0 666.2 L906.9 665.5Z" fill="#FEE79B" stroke="#606060" stroke-width="0.8"/>
<g fill="none" stroke="#606060" stroke-width="1" stroke-linejoin="round">
<path d="M800.6 363.8 L806.2 360.0 L808.8 358.0 L806.2 353.8 L807.5 352.5 L812.5 351.2 L816.9 347.5 L818.8 344.4 L822.5 343.5 L825.0 347.5 L828.8 351.2 L833.0 350.6 L836.2 350.6 L836.9 351.9 L833.0 353.8 L832.5 356.9 L834.4 360.0 L831.2 362.5 L830.0 363.5 L825.0 363.8 L824.4 366.2 L826.2 367.5 L826.9 371.9 L822.5 372.5 L818.8 373.8 L816.2 375.0 L813.8 373.0 L810.0 372.5 L807.5 374.4 L805.0 373.0 L802.5 371.2 L800.6 368.0Z"/>
<path d="M826.9 371.9 L831.2 371.9 L831.2 363.8 L834.4 360.2 L837.5 361.2 L838.1 365.0 L841.9 364.4 L838.8 367.5 L840.0 371.2 L843.8 373.1 L844.4 376.2 L840.0 378.1 L845.0 379.4 L843.8 382.5 L844.4 386.2 L840.6 390.0 L839.4 393.1 L835.0 394.4 L830.6 392.5 L826.2 390.6 L823.1 387.5 L824.4 383.8 L826.2 381.2 L825.6 376.9 L825.0 373.1Z"/>
<path d="M897.5 545.8 L900.8 544.5 L902.0 540.5 L904.5 538.2 L907.0 538.0 L911.0 541.5 L914.0 544.0 L917.2 548.2 L917.5 552.5 L916.0 552.5 L911.0 552.5 L907.0 555.0 L905.0 555.5 L902.5 553.0 L900.0 551.0 L898.0 548.0Z"/>
<path d="M901.2 533.2 L904.8 530.0 L909.5 534.5 L916.0 534.5 L917.2 533.2 L917.5 539.2 L912.5 539.8 L909.0 537.8 L906.5 536.5 L903.2 533.5Z"/>
</g>
<g fill="none" stroke="#606060" stroke-linecap="butt">
<path d="M932.0 679.4 L927.0 702.5" stroke-width="1.6"/>
<path d="M916.3 738.1 L902.5 756.9" stroke-width="1.2"/>
<path d="M882.6 792.2 L872.1 814.4" stroke-width="0.9"/>
<path d="M864.8 852.9 L864.8 875.6" stroke-width="1.7"/>
<path d="M863.6 936.0 L860.1 949.1 L855.2 959.3" stroke-width="0.9"/>
<path d="M814.6 1018.2 L801.2 1035.7" stroke-width="0.9"/>
<path d="M753.7 1105.1 L733.9 1111.8" stroke-width="1.0"/>
<path d="M670.3 1036.6 L669.2 1048.2 L671.8 1059.3" stroke-width="1.0"/>
<path d="M708.2 931.0 L707.6 941.8 L703.6 952.0" stroke-width="1.2"/>
<path d="M689.0 850.0 L696.0 860.2 L699.8 872.7" stroke-width="0.9"/>
</g>
<g fill="#606060">
<rect x="728.3" y="832.0" width="1.3" height="1"/>
<rect x="742.0" y="834.3" width="1.3" height="1"/>
<rect x="731.2" y="842.2" width="1.3" height="1"/>
<rect x="733.3" y="845.1" width="1.3" height="1"/>
<rect x="729.8" y="849.5" width="1.3" height="1"/>
<rect x="738.5" y="847.1" width="1.3" height="1"/>
<rect x="745.8" y="845.1" width="1.3" height="1"/>
<rect x="748.7" y="848.0" width="1.3" height="1"/>
<rect x="747.3" y="853.0" width="1.3" height="1"/>
<rect x="734.2" y="853.0" width="1.3" height="1"/>
<rect x="741.4" y="859.7" width="1.3" height="1"/>
<rect x="773.5" y="855.9" width="1.3" height="1"/>
<rect x="779.3" y="853.0" width="1.3" height="1"/>
<rect x="785.2" y="850.9" width="1.3" height="1"/>
<rect x="789.5" y="852.4" width="1.3" height="1"/>
<rect x="783.7" y="862.6" width="1.3" height="1"/>
<rect x="772.1" y="864.6" width="1.3" height="1"/>
<rect x="785.2" y="946.3" width="1.3" height="1"/>
<rect x="822.5" y="946.6" width="1.3" height="1"/>
<rect x="775.0" y="957.9" width="1.3" height="1"/>
<rect x="783.7" y="957.9" width="1.3" height="1"/>
<rect x="786.6" y="954.4" width="1.3" height="1"/>
<rect x="791.0" y="955.9" width="1.3" height="1"/>
<rect x="789.5" y="959.7" width="1.3" height="1"/>
<rect x="782.3" y="961.7" width="1.3" height="1"/>
<rect x="831.8" y="955.9" width="1.3" height="1"/>
<rect x="839.1" y="955.9" width="1.3" height="1"/>
<rect x="842.0" y="960.3" width="1.3" height="1"/>
<rect x="833.3" y="961.7" width="1.3" height="1"/>
<rect x="805.6" y="966.1" width="1.3" height="1"/>
<rect x="821.6" y="967.5" width="1.3" height="1"/>
<rect x="817.2" y="970.5" width="1.3" height="1"/>
<rect x="777.9" y="970.5" width="1.3" height="1"/>
<rect x="766.2" y="971.9" width="1.3" height="1"/>
<rect x="786.6" y="970.5" width="1.3" height="1"/>
<rect x="796.8" y="972.5" width="1.3" height="1"/>
<rect x="770.6" y="975.4" width="1.3" height="1"/>
<rect x="833.3" y="970.5" width="1.3" height="1"/>
<rect x="833.3" y="975.4" width="1.3" height="1"/>
<rect x="785.2" y="977.8" width="1.3" height="1"/>
<rect x="801.2" y="978.3" width="1.3" height="1"/>
<rect x="807.0" y="980.7" width="1.3" height="1"/>
<rect x="818.7" y="980.7" width="1.3" height="1"/>
<rect x="785.2" y="982.1" width="1.3" height="1"/>
<rect x="812.9" y="985.0" width="1.3" height="1"/>
<rect x="747.3" y="985.9" width="1.3" height="1"/>
<rect x="776.4" y="988.8" width="1.3" height="1"/>
<rect x="799.7" y="988.8" width="1.3" height="1"/>
<rect x="808.5" y="990.9" width="1.3" height="1"/>
<rect x="767.7" y="993.8" width="1.3" height="1"/>
<rect x="821.6" y="995.8" width="1.3" height="1"/>
<rect x="815.8" y="998.7" width="1.3" height="1"/>
<rect x="767.7" y="996.7" width="1.3" height="1"/>
<rect x="772.1" y="1000.5" width="1.3" height="1"/>
<rect x="776.4" y="1002.5" width="1.3" height="1"/>
<rect x="785.2" y="999.6" width="1.3" height="1"/>
<rect x="741.4" y="999.6" width="1.3" height="1"/>
<rect x="747.3" y="1000.2" width="1.3" height="1"/>
<rect x="751.6" y="999.6" width="1.3" height="1"/>
<rect x="732.7" y="1004.0" width="1.3" height="1"/>
<rect x="728.3" y="1006.3" width="1.3" height="1"/>
<rect x="795.4" y="1009.8" width="1.3" height="1"/>
<rect x="801.2" y="1007.5" width="1.3" height="1"/>
<rect x="760.4" y="1012.7" width="1.3" height="1"/>
<rect x="735.6" y="1016.2" width="1.3" height="1"/>
<rect x="754.6" y="1020.9" width="1.3" height="1"/>
<rect x="731.2" y="1022.9" width="1.3" height="1"/>
<rect x="729.8" y="1027.3" width="1.3" height="1"/>
<rect x="710.8" y="1014.2" width="1.3" height="1"/>
<rect x="712.3" y="1018.6" width="1.3" height="1"/>
<rect x="701.5" y="1020.0" width="1.3" height="1"/>
<rect x="696.3" y="1027.9" width="1.3" height="1"/>
<rect x="692.5" y="1030.8" width="1.3" height="1"/>
<rect x="789.5" y="1027.3" width="1.3" height="1"/>
<rect x="791.0" y="1033.1" width="1.3" height="1"/>
<rect x="766.2" y="1039.0" width="1.3" height="1"/>
<rect x="772.1" y="1030.8" width="1.3" height="1"/>
<rect x="759.5" y="1052.1" width="1.3" height="1"/>
<rect x="747.3" y="1059.4" width="1.3" height="1"/>
<rect x="744.4" y="1065.2" width="1.3" height="1"/>
<rect x="748.7" y="1071.0" width="1.3" height="1"/>
<rect x="747.9" y="1076.9" width="1.3" height="1"/>
<rect x="753.7" y="1078.3" width="1.3" height="1"/>
<rect x="741.4" y="1101.1" width="1.3" height="1"/>
<rect x="738.5" y="1102.5" width="1.3" height="1"/>
<rect x="785.2" y="1014.2" width="1.3" height="1"/>
<rect x="788.1" y="1018.0" width="1.3" height="1"/>
<rect x="756.0" y="783.0" width="1.3" height="1"/>
<rect x="771.2" y="788.8" width="1.3" height="1"/>
<rect x="822.2" y="847.1" width="1.3" height="1"/>
<rect x="840.6" y="871.3" width="1.3" height="1"/>
<rect x="798.6" y="896.1" width="1.3" height="1"/>
<rect x="808.4" y="751.5" width="1.3" height="1"/>
<rect x="824.4" y="758.2" width="1.3" height="1"/>
<rect x="685.4" y="751.2" width="1.3" height="1"/>
<rect x="873.8" y="698.9" width="1.3" height="1"/>
<rect x="871.3" y="707.0" width="1.3" height="1"/>
<rect x="918.8" y="658.9" width="1.3" height="1"/>
<rect x="943.1" y="655.1" width="1.3" height="1"/>
<rect x="947.4" y="651.4" width="1.3" height="1"/>
<rect x="963.1" y="651.4" width="1.3" height="1"/>
<rect x="908.1" y="718.2" width="1.3" height="1"/>
<rect x="908.8" y="730.5" width="1.3" height="1"/>
<rect x="930.9" y="566.0" width="1.3" height="1"/>
<rect x="931.4" y="553.9" width="1.3" height="1"/>
<rect x="925.9" y="554.0" width="1.3" height="1"/>
<rect x="923.2" y="559.3" width="1.3" height="1"/>
<rect x="922.4" y="563.3" width="1.3" height="1"/>
<rect x="776.4" y="728.5" width="1.3" height="1"/>
<rect x="780.9" y="730.0" width="1.3" height="1"/>
<rect x="768.9" y="732.0" width="1.3" height="1"/>
<rect x="759.4" y="738.0" width="1.3" height="1"/>
<rect x="751.4" y="740.0" width="1.3" height="1"/>
<rect x="880.9" y="644.5" width="1.3" height="1"/>
<rect x="878.4" y="649.0" width="1.3" height="1"/>
<rect x="883.4" y="655.0" width="1.3" height="1"/>
<rect x="879.9" y="660.5" width="1.3" height="1"/>
<rect x="867.9" y="667.5" width="1.3" height="1"/>
<rect x="861.4" y="673.5" width="1.3" height="1"/>
<rect x="854.4" y="680.0" width="1.3" height="1"/>
<rect x="849.4" y="684.0" width="1.3" height="1"/>
<rect x="837.4" y="697.5" width="1.3" height="1"/>
<rect x="823.9" y="705.0" width="1.3" height="1"/>
<rect x="914.4" y="590.0" width="1.3" height="1"/>
<rect x="912.9" y="596.0" width="1.3" height="1"/>
<rect x="910.4" y="603.5" width="1.3" height="1"/>
<rect x="905.4" y="610.5" width="1.3" height="1"/>
<rect x="898.9" y="616.5" width="1.3" height="1"/>
<rect x="891.4" y="628.0" width="1.3" height="1"/>
<rect x="887.9" y="634.5" width="1.3" height="1"/>
<rect x="919.9" y="380.5" width="1.3" height="1"/>
<rect x="926.4" y="377.0" width="1.3" height="1"/>
<rect x="929.9" y="383.0" width="1.3" height="1"/>
<rect x="937.9" y="383.5" width="1.3" height="1"/>
<rect x="897.4" y="397.0" width="1.3" height="1"/>
<rect x="894.9" y="401.5" width="1.3" height="1"/>
<rect x="892.4" y="405.0" width="1.3" height="1"/>
<rect x="880.9" y="445.0" width="1.3" height="1"/>
<rect x="875.4" y="454.5" width="1.3" height="1"/>
<rect x="935.4" y="370.5" width="1.3" height="1"/>
<rect x="962.4" y="357.5" width="1.3" height="1"/>
</g>
<path d="M915.0 568.5 L917.5 566.0 L921.0 565.5 L923.5 567.0 L922.0 569.5 L919.0 570.0 L916.5 570.5Z" fill="#8c8c8c" stroke="#606060" stroke-width="1.2"/>
<path d="M918.5 571.5 L921.5 570.5 L924.5 568.5 L926.5 570.0 L925.0 572.5 L922.5 574.0 L920.0 574.5Z" fill="#8c8c8c" stroke="#606060" stroke-width="1.2"/>
<path d="M919.5 575.2 L922.0 575.0 L923.0 576.3 L921.0 577.0Z" fill="#8c8c8c" stroke="#606060" stroke-width="1.2"/>
<path d="M920.0 563.0 L925.5 563.0 L925.5 564.3 L920.0 564.3Z" fill="#8c8c8c" stroke="#606060" stroke-width="1.2"/>
<path d="M922.0 559.3 L925.7 559.3 L925.7 560.5 L922.0 560.5Z" fill="#8c8c8c" stroke="#606060" stroke-width="1.2"/>
<path d="M772.7 1026.4 L779.9 1019.1 L784.3 1019.7 L779.9 1026.4 L774.7 1027.8Z" fill="#D9D9D9" stroke="#606060" stroke-width="0.6"/>
<path d="M771.5 723.5l2-2 M772.5 727l2.5-2.5 M776 728.5l2-1 M780 727l1.5-2.5 M778.5 720.5l3 1 M909.5 538.5l6 5 M912.5 539.8l7.5 2.4" stroke="#606060" stroke-width="1.3" fill="none"/>
<g fill="none" stroke="#606060" stroke-width="1.1" stroke-linejoin="round"><path d="M874.6 639.0 L876.5 638.0 L877.5 638.2 L877.5 638.0 L878.6 637.1 L879.9 635.3 L881.9 636.9 L882.4 634.4 L884.8 635.8"/>
<path d="M876.2 635.7 L878.5 635.3 L879.7 636.8 L879.3 637.0 L881.1 639.7 L882.2 639.7"/>
<path d="M873.3 663.6 L874.0 661.8 L873.8 661.3 L876.2 661.0 L876.3 660.5 L877.5 658.8 L879.3 659.0 L878.9 657.7"/>
<path d="M863.1 670.6 L864.6 667.9 L866.3 666.5 L866.1 667.5 L866.5 665.8 L867.3 665.4 L870.1 664.2"/>
<path d="M858.4 675.4 L859.1 675.1 L860.0 673.5 L861.8 673.8"/>
<path d="M846.9 684.0 L847.3 683.5 L850.0 683.8 L851.8 681.1 L852.1 681.7 L852.5 680.5 L854.2 678.9"/>
<path d="M826.4 703.3 L828.2 701.4 L830.3 703.0"/>
<path d="M899.0 612.3 L901.8 612.8 L904.1 611.9 L904.5 609.7"/>
<path d="M886.7 633.7 L888.9 629.6 L887.9 627.9"/>
<path d="M899.9 613.5 L901.3 611.4 L900.5 610.5 L902.0 609.5 L904.0 608.5 L903.5 606.9"/>
<path d="M911.4 585.2 L913.8 587.1 L915.5 587.0 L916.1 585.6 L917.2 586.1 L918.9 584.2"/>
<path d="M914.3 600.0 L915.6 598.6 L915.8 597.8"/>
<path d="M900.0 621.1 L900.6 621.9 L902.8 618.9"/>
<path d="M770.4 727.0 L772.1 725.6 L774.7 727.4 L775.2 725.1 L775.7 723.2 L777.8 722.9 L780.4 721.8 L779.9 723.4"/>
<path d="M747.1 737.4 L748.5 736.5 L749.9 738.7 L752.1 737.3 L752.0 735.7 L753.2 736.3"/></g>
</svg>
<div class="fr" style="left:24px;top:24px;width:1152px;height:1px"></div><div class="fr" style="left:24px;top:24px;width:1px;height:1152px"></div><div class="fr" style="left:1174px;top:24px;width:2px;height:1152px"></div><div class="fr" style="left:24px;top:1174px;width:1152px;height:2px"></div>
<div class="title"><span class="cjk">父系：</span> I-M253 (<span class="cjk">含下游</span>)</div>
<div class="ltitle cjk">相对占比</div>
<div class="sw" style="top:805.0px;background:#FFFFE5"></div><div class="lab" style="top:808.0px">0.047% - 0.087%</div>
<div class="sw" style="top:838.6px;background:#FFF8C1"></div><div class="lab" style="top:841.6px">0.087% - 0.136%</div>
<div class="sw" style="top:872.2px;background:#FEE79B"></div><div class="lab" style="top:875.2px">0.136% - 0.236%</div>
<div class="sw" style="top:905.8px;background:#FECE65"></div><div class="lab" style="top:908.8px">0.236% - 0.300%</div>
<div class="sw" style="top:939.4px;background:#FEAC3A"></div><div class="lab" style="top:942.4px">0.300% - 0.346%</div>
<div class="sw" style="top:973.0px;background:#F68720"></div><div class="lab" style="top:976.0px">0.346% - 0.664%</div>
<div class="sw" style="top:1006.6px;background:#E1640E"></div><div class="lab" style="top:1009.6px">0.664% - 0.813%</div>
<div class="sw" style="top:1040.2px;background:#C14702"></div><div class="lab" style="top:1043.2px">0.813% - 0.917%</div>
<div class="sw" style="top:1073.8px;background:#933204"></div><div class="lab" style="top:1076.8px">0.917% - 1.351%</div>
<div class="sw" style="top:1107.4px;background:#662506"></div><div class="lab" style="top:1110.4px">1.351% - 1.408%</div>
<div class="author"><span class="cjk">作者</span>:O1a<span class="cjk">溯源群</span></div>
</body></html>
